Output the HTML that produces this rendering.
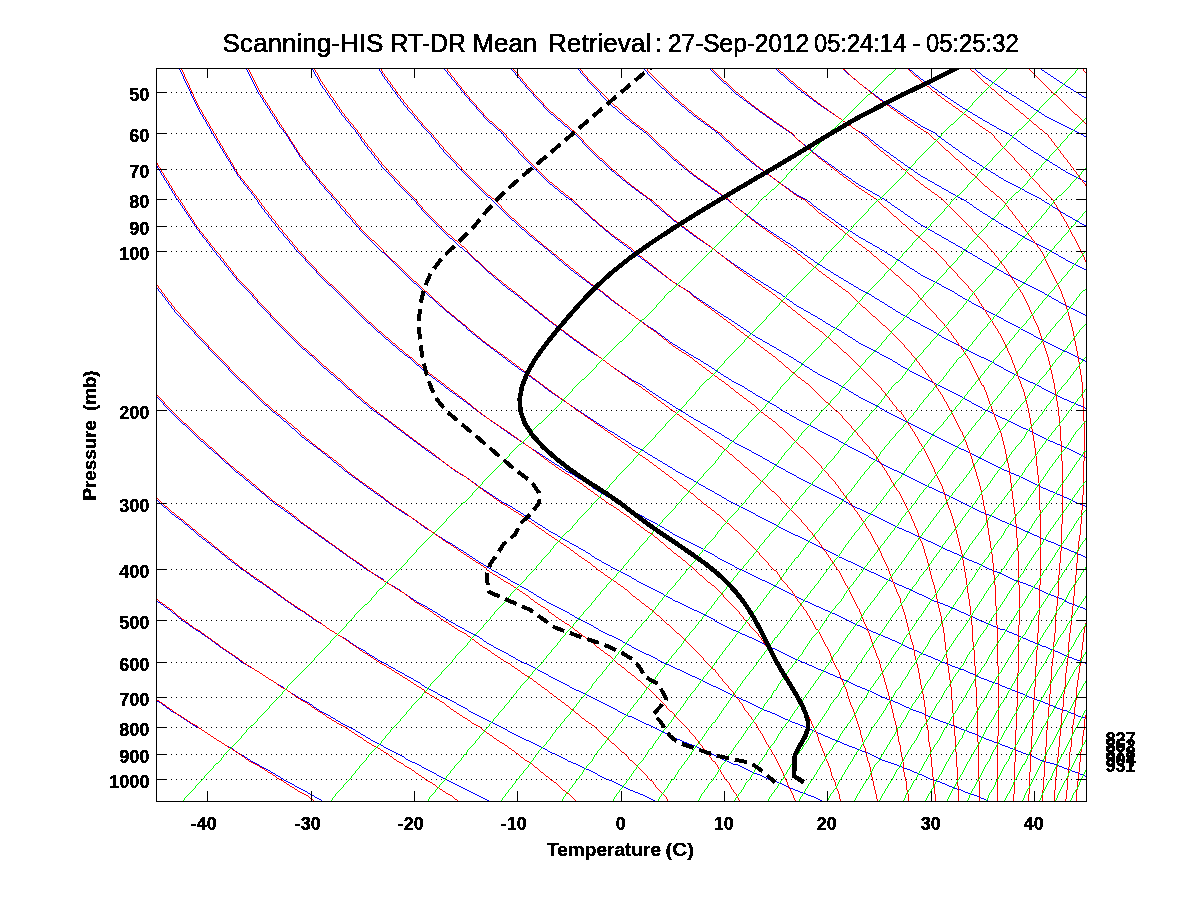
<!DOCTYPE html>
<html><head><meta charset="utf-8"><title>Skew-T</title>
<style>html,body{margin:0;padding:0;background:#fff;overflow:hidden}svg{display:block}</style></head>
<body>
<svg width="1200" height="900" viewBox="0 0 1200 900">
<defs><clipPath id="c"><rect x="156" y="68" width="931" height="734"/></clipPath>
<filter id="th" x="0" y="0" width="1200" height="900" filterUnits="userSpaceOnUse" color-interpolation-filters="sRGB"><feComponentTransfer><feFuncA type="discrete" tableValues="0 1"/></feComponentTransfer></filter>
</defs>
<rect width="1200" height="900" fill="#fff"/>
<g shape-rendering="crispEdges" fill="none" stroke-width="1" stroke-linecap="square" transform="translate(0.5,0.5)">
<path stroke="#0000ff" d="M322 801l-2 -2h-1l-1 -1h-1l-1 -1h-1l-2 -2h-1l-1 -1h-1l-1 -1h-1l-2 -2h-1l-1 -1h-1l-1 -1h-1l-1 -1h-1l-1 -1h-1l-1 -1h-1l-2 -2h-1l-1 -1h-1l-1 -1h-1l-1 -1h-1l-1 -1h-1l-2 -2h-1l-2 -2h-1l-1 -1h-1l-2 -2h-1l-1 -1h-1l-2 -2h-1l-1 -1h-1l-1 -1h-1l-1 -1h-1l-1 -1h-1l-2 -2h-1l-1 -1h-1l-1 -1h-1l-1 -1h-1l-2 -2h-1l-2 -2h-1l-2 -2h-1l-1 -1h-1l-1 -1h-1l-2 -2h-1l-3 -3h-1l-1 -1h-1l-1 -1h-1l-1 -1h-1l-2 -2h-1l-2 -2h-1l-1 -1h-1l-2 -2h-1l-2 -2h-1l-2 -2h-1l-2 -2h-1l-2 -2h-1l-2 -2h-1l-1 -1h-1l-1 -1h-1l-1 -1h-1l-2 -2h-1l-2 -2h-1l-2 -2h-1l-2 -2h-1l-2 -2h-1l-2 -2h-1l-1 -1h-1l-1 -1h-1l-3 -3h-1l-3 -3h-1l-3 -3h-1l-1 -1h-1l-1 -1M489 801l-1 -1h-1l-1 -1h-1l-1 -1h-1l-1 -1h-1l-1 -1h-1l-1 -1h-1l-1 -1h-1l-1 -1h-1l-1 -1h-1l-1 -1h-1l-1 -1h-1l-1 -1h-1l-1 -1h-1l-1 -1h-1l-1 -1h-1l-1 -1h-1l-1 -1h-1l-1 -1h-1l-1 -1h-1l-1 -1h-1l-1 -1h-1l-1 -1h-1l-1 -1h-1l-1 -1h-1l-1 -1h-1l-1 -1h-1l-2 -2h-1l-1 -1h-1l-1 -1h-1l-1 -1h-1l-1 -1h-1l-1 -1h-1l-1 -1h-1l-2 -2h-1l-1 -1h-1l-1 -1h-1l-1 -1h-2l-1 -1h-1l-1 -1h-1l-1 -1h-1l-3 -3h-1l-1 -1h-1l-1 -1h-1l-1 -1h-1l-1 -1h-1l-1 -1h-1l-1 -1h-1l-1 -1h-1l-1 -1h-1l-1 -1h-1l-2 -2h-1l-1 -1h-1l-1 -1h-1l-1 -1h-1l-1 -1h-1l-1 -1h-1l-2 -2h-1l-1 -1h-1l-2 -2h-1l-1 -1h-1l-2 -2h-1l-1 -1h-1l-2 -2h-1l-1 -1h-1l-1 -1h-1l-1 -1h-1l-1 -1h-1l-1 -1h-1l-1 -1h-1l-2 -2h-1l-1 -1h-1l-2 -2h-1l-1 -1h-1l-2 -2h-1l-1 -1h-1l-1 -1h-1l-1 -1h-1l-1 -1h-1l-2 -2h-1l-2 -2h-1l-3 -3h-1l-2 -2h-1l-1 -1h-1l-1 -1h-1l-1 -1h-1l-1 -1h-1l-2 -2h-1l-2 -2h-1l-1 -1h-1l-2 -2h-1l-2 -2h-1l-3 -3h-1l-1 -1h-1l-1 -1h-1l-2 -2h-1l-2 -2h-1l-1 -1h-1l-2 -2h-1l-2 -2h-1l-2 -2h-1l-2 -2h-1l-1 -1h-1l-2 -2h-1l-1 -1h-1l-1 -1h-1l-2 -2h-1l-1 -1h-1l-2 -2h-1l-3 -3h-1l-3 -3h-1l-2 -2h-1l-2 -2h-1l-2 -2h-1l-2 -2h-1l-3 -3h-1l-3 -3h-1l-3 -3h-1l-2 -2h-1l-2 -2h-1l-3 -3h-1l-1 -1h-1l-2 -2h-1l-2 -2h-1l-3 -3h-1l-2 -2h-1l-3 -3h-1l-5 -5h-1l-4 -4h-1l-2 -2h-1l-3 -3h-1l-2 -2h-1l-2 -2M655 801l-1 -1h-1l-1 -1h-1l-1 -1h-1l-1 -1h-1l-1 -1h-1l-1 -1h-1l-1 -1h-2l-1 -1h-1l-1 -1h-2l-1 -1h-1l-1 -1h-2l-1 -1h-1l-1 -1h-1l-1 -1h-1l-1 -1h-1l-1 -1h-1l-1 -1h-1l-1 -1h-1l-1 -1h-1l-1 -1h-1l-1 -1h-2l-1 -1h-2l-1 -1h-1l-1 -1h-1l-1 -1h-1l-1 -1h-1l-2 -2h-1l-1 -1h-1l-1 -1h-1l-1 -1h-1l-1 -1h-2l-1 -1h-1l-1 -1h-1l-1 -1h-1l-1 -1h-1l-1 -1h-1l-1 -1h-2l-1 -1h-1l-1 -1h-2l-2 -2h-1l-1 -1h-1l-1 -1h-1l-1 -1h-1l-1 -1h-1l-1 -1h-1l-1 -1h-2l-1 -1h-1l-1 -1h-1l-2 -2h-1l-1 -1h-1l-1 -1h-1l-1 -1h-1l-1 -1h-1l-1 -1h-1l-1 -1h-1l-1 -1h-1l-1 -1h-1l-1 -1h-2l-1 -1h-1l-1 -1h-1l-1 -1h-1l-1 -1h-1l-1 -1h-1l-1 -1h-1l-1 -1h-1l-1 -1h-1l-1 -1h-1l-2 -2h-1l-1 -1h-1l-1 -1h-1l-1 -1h-1l-1 -1h-1l-1 -1h-1l-1 -1h-1l-1 -1h-1l-1 -1h-1l-1 -1h-1l-1 -1h-1l-1 -1h-1l-1 -1h-1l-1 -1h-1l-1 -1h-1l-1 -1h-1l-1 -1h-1l-1 -1h-1l-1 -1h-1l-3 -3h-1l-1 -1h-1l-1 -1h-1l-1 -1h-1l-1 -1h-1l-2 -2h-1l-1 -1h-1l-1 -1h-1l-1 -1h-1l-1 -1h-1l-1 -1h-1l-1 -1h-1l-1 -1h-1l-1 -1h-1l-2 -2h-1l-1 -1h-1l-1 -1h-1l-1 -1h-1l-1 -1h-1l-1 -1h-1l-2 -2h-1l-3 -3h-1l-1 -1h-1l-1 -1h-1l-2 -2h-1l-1 -1h-1l-1 -1h-1l-1 -1h-1l-2 -2h-1l-1 -1h-1l-1 -1h-1l-1 -1h-1l-2 -2h-1l-1 -1h-1l-1 -1h-1l-2 -2h-1l-1 -1h-1l-1 -1h-1l-1 -1h-1l-1 -1h-1l-2 -2h-1l-2 -2h-1l-1 -1h-1l-2 -2h-1l-3 -3h-1l-1 -1h-1l-1 -1h-1l-1 -1h-1l-2 -2h-1l-2 -2h-1l-3 -3h-1l-2 -2h-1l-1 -1h-1l-1 -1h-1l-1 -1h-1l-2 -2h-1l-2 -2h-1l-1 -1h-1l-2 -2h-1l-3 -3h-1l-2 -2h-1l-1 -1h-1l-1 -1h-1l-2 -2h-1l-3 -3h-1l-2 -2h-1l-3 -3h-1l-1 -1h-1l-1 -1h-1l-2 -2h-1l-3 -3h-1l-2 -2h-1l-2 -2h-1l-3 -3h-1l-2 -2h-1l-3 -3h-1l-3 -3h-1l-2 -2h-1l-3 -3h-1l-2 -2h-1l-1 -1h-1l-2 -2h-1l-3 -3h-1l-3 -3h-1l-3 -3h-1l-2 -2h-1l-3 -3h-1l-3 -3h-1l-3 -3h-1l-5 -5h-1l-5 -5h-1l-3 -3h-1l-4 -4h-1l-3 -3h-1l-3 -3h-1l-7 -7h-1l-5 -5h-1l-5 -5h-1l-2 -2h-1l-3 -3h-1l-7 -7h-1l-8 -8M822 801l-1 -1h-1l-1 -1h-1l-1 -1h-1l-1 -1h-1l-1 -1h-2l-1 -1h-2l-1 -1h-1l-1 -1h-2l-1 -1h-2l-1 -1h-1l-1 -1h-2l-1 -1h-1l-1 -1h-2l-1 -1h-1l-1 -1h-1l-1 -1h-1l-1 -1h-1l-1 -1h-2l-1 -1h-1l-1 -1h-1l-1 -1h-3l-1 -1h-2l-1 -1h-1l-1 -1h-1l-1 -1h-1l-1 -1h-1l-1 -1h-2l-1 -1h-2l-1 -1h-1l-1 -1h-1l-1 -1h-1l-1 -1h-1l-1 -1h-1l-1 -1h-1l-1 -1h-1l-1 -1h-1l-1 -1h-4l-1 -1h-1l-1 -1h-1l-1 -1h-1l-1 -1h-2l-1 -1h-1l-1 -1h-1l-1 -1h-1l-1 -1h-1l-1 -1h-1l-1 -1h-1l-1 -1h-1l-1 -1h-1l-1 -1h-1l-1 -1h-1l-1 -1h-2l-1 -1h-1l-1 -1h-1l-1 -1h-1l-1 -1h-2l-1 -1h-2l-1 -1h-1l-1 -1h-2l-1 -1h-1l-1 -1h-1l-1 -1h-2l-1 -1h-1l-1 -1h-1l-1 -1h-1l-1 -1h-1l-1 -1h-1l-1 -1h-1l-1 -1h-1l-1 -1h-1l-1 -1h-1l-1 -1h-1l-1 -1h-1l-1 -1h-1l-1 -1h-1l-1 -1h-1l-1 -1h-2l-1 -1h-1l-1 -1h-1l-1 -1h-1l-1 -1h-1l-1 -1h-1l-1 -1h-1l-1 -1h-1l-1 -1h-3l-1 -1h-1l-1 -1h-1l-1 -1h-1l-1 -1h-1l-1 -1h-1l-2 -2h-1l-1 -1h-1l-1 -1h-1l-1 -1h-1l-1 -1h-1l-1 -1h-1l-1 -1h-1l-1 -1h-1l-1 -1h-1l-1 -1h-1l-1 -1h-1l-1 -1h-1l-1 -1h-1l-1 -1h-1l-1 -1h-1l-1 -1h-1l-1 -1h-1l-1 -1h-1l-1 -1h-1l-1 -1h-2l-1 -1h-1l-1 -1h-1l-1 -1h-1l-2 -2h-1l-1 -1h-1l-1 -1h-1l-1 -1h-1l-1 -1h-1l-1 -1h-1l-1 -1h-1l-1 -1h-1l-1 -1h-1l-1 -1h-1l-2 -2h-1l-1 -1h-1l-1 -1h-1l-1 -1h-1l-1 -1h-1l-2 -2h-1l-1 -1h-1l-1 -1h-1l-1 -1h-1l-1 -1h-1l-1 -1h-2l-1 -1h-1l-1 -1h-1l-1 -1h-1l-1 -1h-1l-2 -2h-1l-1 -1h-1l-1 -1h-1l-2 -2h-1l-1 -1h-1l-1 -1h-1l-1 -1h-1l-1 -1h-1l-1 -1h-1l-1 -1h-1l-2 -2h-1l-1 -1h-1l-1 -1h-1l-2 -2h-1l-3 -3h-1l-2 -2h-1l-1 -1h-1l-1 -1h-1l-1 -1h-1l-1 -1h-1l-1 -1h-1l-1 -1h-1l-2 -2h-1l-1 -1h-1l-1 -1h-1l-1 -1h-1l-2 -2h-1l-1 -1h-1l-1 -1h-1l-2 -2h-1l-2 -2h-1l-1 -1h-1l-2 -2h-1l-2 -2h-1l-1 -1h-1l-2 -2h-1l-1 -1h-1l-2 -2h-1l-1 -1h-1l-1 -1h-1l-1 -1h-1l-1 -1h-1l-2 -2h-1l-2 -2h-1l-2 -2h-1l-2 -2h-1l-2 -2h-1l-3 -3h-1l-1 -1h-1l-2 -2h-1l-1 -1h-1l-1 -1h-1l-2 -2h-1l-1 -1h-1l-1 -1v-1l-1 -1h-1l-1 -1h-1l-2 -2h-1l-1 -1h-1l-1 -1h-1l-2 -2h-1l-1 -1h-1l-2 -2h-1l-3 -3h-1l-2 -2h-1l-3 -3h-1l-2 -2h-1l-2 -2h-1l-3 -3h-1l-2 -2h-1l-3 -3h-1l-3 -3h-1l-2 -2h-1l-2 -2h-1l-3 -3h-1l-2 -2h-1l-3 -3h-1l-3 -3h-1l-2 -2h-1l-3 -3h-1l-2 -2h-1l-3 -3h-1l-4 -4h-1l-3 -3h-1l-2 -2h-1l-3 -3h-1l-2 -2h-1l-2 -2h-1l-4 -4h-1l-7 -7h-1l-4 -4h-1l-4 -4h-1l-5 -5h-1l-5 -5h-1l-3 -3h-1l-9 -9h-1l-10 -10h-1l-5 -5h-1l-7 -7h-1l-17 -17h-1l-20 -20v-1l-7 -7M989 801h-1l-1 -1h-1l-1 -1h-1l-1 -1h-2l-1 -1h-1l-1 -1h-1l-1 -1h-2l-1 -1h-2l-1 -1h-2l-1 -1h-2l-1 -1h-1l-1 -1h-1l-1 -1h-3l-1 -1h-2l-1 -1h-1l-1 -1h-2l-1 -1h-1l-1 -1h-1l-1 -1h-2l-1 -1h-1l-1 -1h-3l-1 -1h-2l-1 -1h-2l-1 -1h-1l-1 -1h-1l-1 -1h-1l-1 -1h-1l-1 -1h-2l-1 -1h-1l-1 -1h-2l-1 -1h-1l-1 -1h-1l-1 -1h-2l-1 -1h-2l-1 -1h-1l-1 -1h-2l-1 -1h-1l-1 -1h-2l-1 -1h-2l-1 -1h-2l-1 -1h-2l-1 -1h-2l-1 -1h-1l-1 -1h-1l-1 -1h-1l-1 -1h-1l-1 -1h-1l-1 -1h-1l-1 -1h-1l-1 -1h-2l-1 -1h-2l-1 -1h-1l-1 -1h-2l-1 -1h-1l-1 -1h-2l-1 -1h-2l-1 -1h-1l-1 -1h-2l-1 -1h-1l-1 -1h-1l-1 -1h-2l-1 -1h-1l-1 -1h-2l-1 -1h-1l-1 -1h-1l-1 -1h-2l-1 -1h-1l-1 -1h-1l-1 -1h-2l-1 -1h-1l-1 -1h-1l-1 -1h-1l-1 -1h-1l-1 -1h-1l-1 -1h-2l-1 -1h-1l-1 -1h-2l-1 -1h-1l-1 -1h-2l-1 -1h-2l-1 -1h-1l-1 -1h-1l-1 -1h-2l-1 -1h-1l-1 -1h-1l-1 -1h-1l-1 -1h-1l-1 -1h-1l-1 -1h-2l-1 -1h-1l-1 -1h-2l-1 -1h-2l-1 -1h-1l-1 -1h-1l-1 -1h-1l-1 -1h-1l-1 -1h-1l-1 -1h-1l-1 -1h-1l-1 -1h-1l-1 -1h-1l-1 -1h-2l-1 -1h-1l-1 -1h-1l-1 -1h-2l-1 -1h-1l-1 -1h-1l-1 -1h-1l-1 -1h-1l-1 -1h-1l-1 -1h-1l-1 -1h-1l-1 -1h-1l-1 -1h-1l-1 -1h-1l-1 -1h-2l-1 -1h-1l-1 -1h-1l-1 -1h-1l-1 -1h-1l-1 -1h-1l-1 -1h-1l-1 -1h-1l-1 -1h-1l-1 -1h-1l-1 -1h-2l-1 -1h-1l-1 -1h-1l-1 -1h-1l-1 -1h-1l-1 -1h-1l-1 -1h-1l-1 -1h-2l-1 -1h-1l-1 -1h-1l-1 -1h-1l-1 -1h-1l-1 -1h-2l-1 -1h-1l-1 -1h-1l-1 -1h-1l-1 -1h-1l-2 -2h-1l-1 -1h-1l-1 -1h-1l-1 -1h-1l-1 -1h-2l-1 -1h-1l-1 -1h-1l-1 -1h-1l-1 -1h-1l-1 -1h-1l-1 -1h-1l-1 -1h-1l-2 -2h-1l-1 -1h-1l-1 -1h-1l-1 -1h-1l-2 -2h-1l-1 -1h-1l-1 -1h-1l-1 -1h-1l-1 -1h-1l-1 -1h-2l-1 -1h-1l-1 -1h-1l-1 -1h-1l-1 -1h-1l-1 -1h-1l-2 -2h-1l-1 -1h-1l-2 -2h-1l-1 -1h-1l-1 -1h-1l-1 -1h-1l-1 -1h-1l-1 -1h-1l-1 -1h-1l-1 -1h-1l-1 -1h-1l-2 -2h-1l-1 -1h-1l-2 -2h-1l-1 -1h-1l-1 -1h-1l-1 -1h-1l-1 -1h-1l-1 -1h-1l-1 -1h-1l-1 -1h-1l-1 -1h-1l-1 -1h-1l-1 -1h-1l-2 -2h-1l-1 -1h-1l-2 -2h-1l-1 -1h-1l-2 -2h-1l-2 -2h-1l-1 -1h-1l-2 -2h-1l-1 -1h-1l-1 -1h-1l-1 -1h-1l-2 -2h-1l-1 -1h-1l-1 -1h-1l-1 -1h-1l-2 -2h-1l-2 -2h-1l-1 -1h-1l-1 -1h-1l-1 -1h-1l-2 -2h-1l-1 -1h-1l-1 -1h-1l-2 -2h-1l-1 -1h-1l-2 -2h-1l-2 -2h-1l-1 -1h-1l-2 -2h-1l-2 -2h-1l-2 -2h-1l-2 -2h-1l-2 -2h-1l-2 -2h-1l-1 -1h-1l-2 -2h-1l-2 -2h-1l-2 -2h-1l-1 -1h-1l-1 -1h-1l-2 -2h-1l-2 -2h-1l-1 -1h-1l-2 -2h-1l-2 -2h-1l-2 -2h-1l-1 -1h-1l-1 -1h-1l-3 -3h-1l-3 -3h-1l-3 -3h-1l-3 -3h-1l-1 -1h-1l-1 -1h-1l-2 -2h-1l-2 -2h-1l-2 -2h-1l-2 -2h-1l-2 -2h-1l-3 -3h-1l-4 -4h-1l-2 -2h-1l-2 -2h-1l-3 -3h-1l-2 -2h-1l-3 -3h-1l-3 -3h-1l-3 -3h-1l-2 -2h-1l-3 -3h-1l-3 -3h-1l-5 -5h-1l-4 -4h-1l-5 -5h-1l-4 -4h-1l-4 -4h-1l-3 -3h-1l-3 -3h-1l-3 -3h-1l-3 -3h-1l-9 -9h-1l-7 -7h-1l-6 -6h-1l-3 -3h-1l-7 -7h-1l-23 -23h-1l-13 -13v-1l-20 -20v-1l-14 -14v-1l-11 -11v-1l-9 -9v-1l-3 -3v-1l-3 -3v-1l-3 -3v-1l-3 -3v-1l-4 -4v-1l-2 -2M1086 776h-1l-1 -1h-1l-1 -1h-2l-1 -1h-1l-1 -1h-2l-1 -1h-2l-1 -1h-1l-1 -1h-2l-1 -1h-2l-1 -1h-1l-1 -1h-2l-1 -1h-1l-1 -1h-2l-1 -1h-3l-1 -1h-3l-1 -1h-2l-1 -1h-2l-1 -1h-1l-1 -1h-1l-1 -1h-1l-1 -1h-1l-1 -1h-1l-1 -1h-3l-1 -1h-2l-1 -1h-1l-1 -1h-2l-1 -1h-1l-1 -1h-2l-1 -1h-2l-1 -1h-1l-1 -1h-2l-1 -1h-2l-1 -1h-1l-1 -1h-2l-1 -1h-2l-1 -1h-1l-1 -1h-2l-1 -1h-2l-1 -1h-1l-1 -1h-2l-1 -1h-1l-1 -1h-1l-1 -1h-1l-1 -1h-2l-1 -1h-2l-1 -1h-1l-1 -1h-2l-1 -1h-2l-1 -1h-1l-1 -1h-1l-1 -1h-2l-1 -1h-2l-1 -1h-1l-1 -1h-2l-1 -1h-2l-1 -1h-2l-1 -1h-1l-1 -1h-2l-1 -1h-1l-1 -1h-1l-1 -1h-2l-1 -1h-1l-1 -1h-1l-1 -1h-1l-1 -1h-2l-1 -1h-2l-1 -1h-2l-1 -1h-1l-1 -1h-1l-1 -1h-2l-1 -1h-1l-1 -1h-1l-1 -1h-1l-1 -1h-1l-1 -1h-2l-1 -1h-1l-1 -1h-2l-1 -1h-2l-1 -1h-1l-1 -1h-2l-1 -1h-1l-1 -1h-1l-1 -1h-1l-1 -1h-1l-1 -1h-1l-1 -1h-1l-1 -1h-2l-1 -1h-1l-1 -1h-2l-1 -1h-1l-1 -1h-2l-1 -1h-1l-1 -1h-1l-1 -1h-1l-1 -1h-1l-1 -1h-1l-1 -1h-2l-1 -1h-1l-1 -1h-1l-1 -1h-2l-1 -1h-1l-1 -1h-1l-1 -1h-2l-1 -1h-1l-1 -1h-1l-1 -1h-2l-1 -1h-1l-1 -1h-2l-1 -1h-1l-1 -1h-1l-1 -1h-1l-1 -1h-2l-1 -1h-1l-1 -1h-1l-1 -1h-2l-1 -1h-1l-1 -1h-1l-1 -1h-2l-1 -1h-1l-1 -1h-1l-1 -1h-1l-1 -1h-1l-1 -1h-1l-1 -1h-1l-1 -1h-1l-1 -1h-1l-1 -1h-1l-1 -1h-1l-1 -1h-2l-1 -1h-1l-1 -1h-1l-1 -1h-1l-1 -1h-1l-1 -1h-1l-1 -1h-1l-1 -1h-1l-1 -1h-1l-1 -1h-1l-1 -1h-1l-1 -1h-2l-1 -1h-1l-1 -1h-1l-1 -1h-2l-1 -1h-1l-1 -1h-1l-1 -1h-1l-1 -1h-2l-1 -1h-1l-1 -1h-1l-1 -1h-1l-1 -1h-1l-1 -1h-1l-1 -1h-1l-1 -1h-1l-1 -1h-1l-1 -1h-1l-1 -1v-1h-1l-1 -1h-1l-1 -1h-1l-1 -1h-1l-1 -1h-1l-1 -1h-1l-1 -1h-1l-1 -1h-1l-1 -1h-1l-1 -1h-2l-1 -1h-1l-1 -1h-1l-1 -1h-1l-1 -1h-1l-1 -1h-1l-1 -1h-1l-1 -1h-1l-1 -1h-1l-1 -1h-2l-1 -1h-1l-2 -2h-1l-1 -1h-1l-1 -1h-1l-1 -1h-1l-2 -2h-1l-1 -1h-1l-1 -1h-1l-1 -1h-1l-1 -1h-1l-1 -1h-1l-1 -1h-1l-1 -1h-1l-1 -1h-1l-1 -1h-1l-1 -1h-1l-1 -1h-1l-1 -1h-1l-2 -2h-1l-1 -1h-1l-2 -2h-1l-1 -1h-1l-1 -1h-1l-1 -1h-1l-1 -1h-1l-1 -1h-1l-1 -1h-1l-1 -1h-1l-1 -1h-1l-1 -1h-1l-2 -2h-1l-1 -1h-1l-1 -1h-1l-1 -1h-1l-2 -2h-1l-1 -1h-1l-1 -1h-1l-2 -2h-1l-3 -3h-1l-1 -1h-1l-2 -2h-1l-1 -1h-1l-1 -1h-1l-2 -2h-1l-1 -1h-1l-1 -1h-1l-1 -1h-1l-2 -2h-1l-1 -1h-1l-1 -1h-1l-2 -2h-1l-1 -1h-1l-2 -2h-1l-1 -1h-1l-1 -1h-1l-1 -1h-1l-2 -2h-1l-2 -2h-1l-2 -2h-1l-1 -1h-1l-2 -2h-1l-2 -2h-1l-2 -2h-1l-2 -2h-1l-1 -1h-1l-2 -2h-1l-2 -2h-1l-1 -1h-1l-2 -2h-1l-2 -2h-1l-1 -1h-1l-1 -1h-1l-1 -1h-1l-1 -1h-1l-2 -2h-1l-2 -2h-1l-2 -2h-1l-2 -2h-1l-2 -2h-1l-2 -2h-1l-2 -2h-1l-2 -2h-1l-3 -3h-1l-2 -2h-1l-3 -3h-1l-2 -2h-1l-1 -1h-1l-1 -1h-1l-2 -2h-1l-1 -1h-1l-3 -3h-1l-3 -3h-1l-3 -3h-1l-3 -3h-1l-2 -2h-1l-2 -2h-1l-3 -3h-1l-2 -2h-1l-3 -3h-1l-3 -3h-1l-3 -3h-1l-3 -3h-1l-3 -3h-1l-3 -3h-1l-3 -3h-1l-3 -3h-1l-4 -4h-1l-3 -3h-1l-3 -3h-1l-2 -2h-1l-3 -3h-1l-3 -3h-1l-5 -5h-1l-6 -6h-1l-8 -8h-1l-9 -9h-1l-6 -6h-1l-6 -6h-1l-13 -13h-1l-6 -6h-1l-33 -33v-1l-13 -13v-1l-5 -5v-1l-16 -16v-1l-4 -4v-1l-4 -4v-1l-4 -4v-1l-4 -4v-1l-4 -4v-1l-4 -4v-1l-3 -3v-1l-3 -3v-1l-4 -4v-1l-3 -3v-1l-3 -3v-1l-2 -2v-1l-2 -2v-1l-2 -2v-1l-2 -2v-1l-2 -2v-1l-2 -2v-1l-2 -2v-1l-2 -2v-1l-2 -2v-1l-3 -3v-1l-1 -1v-1l-2 -2v-1l-1 -1v-1l-2 -2v-1l-1 -1v-1l-2 -2v-1l-2 -2v-1l-1 -1v-1l-2 -2v-1l-1 -1v-1l-2 -2v-1l-1 -1v-1l-1 -1M1086 718h-1l-1 -1h-3l-1 -1h-2l-1 -1h-1l-1 -1h-1l-1 -1h-2l-1 -1h-1l-1 -1h-1l-1 -1h-4l-1 -1h-1l-1 -1h-2l-1 -1h-1l-1 -1h-1l-1 -1h-2l-1 -1h-1l-1 -1h-2l-1 -1h-1l-1 -1h-2l-1 -1h-2l-1 -1h-1l-1 -1h-2l-1 -1h-2l-1 -1h-1l-1 -1h-1l-1 -1h-1l-1 -1h-2l-1 -1h-1l-1 -1h-2l-1 -1h-2l-1 -1h-1l-1 -1h-2l-1 -1h-1l-1 -1h-2l-1 -1h-1l-1 -1h-1l-1 -1h-2l-1 -1h-2l-1 -1h-2l-1 -1h-1l-1 -1h-2l-1 -1h-2l-1 -1h-1l-1 -1h-1l-1 -1h-1l-1 -1h-1l-1 -1h-2l-1 -1h-1l-1 -1h-1l-1 -1h-1l-1 -1h-3l-1 -1h-1l-1 -1h-2l-1 -1h-2l-1 -1h-1l-1 -1h-2l-1 -1h-1l-1 -1h-2l-1 -1h-1l-1 -1h-1l-1 -1h-2l-1 -1h-1l-1 -1h-1l-1 -1h-2l-1 -1h-1l-1 -1h-2l-1 -1h-1l-1 -1h-1l-1 -1h-1l-1 -1h-2l-1 -1h-1l-1 -1h-2l-1 -1h-1l-1 -1h-1l-1 -1h-1l-1 -1h-1l-1 -1h-1l-1 -1h-1l-1 -1h-1l-1 -1h-2l-1 -1h-1l-1 -1h-1l-1 -1h-2l-1 -1h-1l-1 -1h-1l-1 -1h-2l-1 -1h-1l-1 -1h-2l-1 -1h-1l-1 -1h-1l-1 -1h-2l-1 -1h-1l-1 -1h-1l-1 -1h-1l-1 -1h-2l-1 -1h-1l-1 -1h-1l-1 -1h-1l-1 -1h-1l-1 -1h-1l-1 -1h-1l-1 -1h-1l-1 -1h-1l-1 -1h-1l-1 -1h-1l-1 -1h-1l-1 -1h-2l-1 -1h-1l-1 -1h-1l-1 -1h-2l-1 -1h-1l-1 -1h-1l-1 -1h-1l-1 -1h-2l-1 -1h-1l-1 -1h-1l-1 -1h-1l-1 -1h-1l-1 -1h-2l-1 -1h-1l-1 -1h-1l-1 -1h-1l-1 -1h-1l-1 -1h-1l-1 -1h-1l-1 -1h-1l-1 -1h-1l-1 -1h-1l-1 -1h-1l-1 -1h-1l-1 -1h-1l-1 -1h-1l-1 -1h-1l-1 -1h-1l-1 -1h-1l-1 -1h-1l-1 -1h-1l-1 -1h-1l-1 -1h-1l-1 -1h-2l-1 -1h-1l-1 -1h-1l-1 -1h-1l-1 -1h-1l-1 -1h-1l-1 -1h-1l-1 -1h-1l-1 -1h-1l-1 -1h-1l-1 -1h-1l-1 -1h-2l-1 -1h-1l-1 -1h-1l-2 -2h-1l-1 -1h-1l-1 -1h-1l-1 -1h-1l-1 -1h-1l-1 -1h-1l-1 -1h-1l-1 -1h-1l-2 -2h-1l-2 -2h-1l-1 -1h-1l-1 -1h-1l-1 -1h-1l-1 -1h-1l-2 -2h-1l-1 -1h-1l-1 -1h-1l-1 -1h-1l-1 -1h-1l-1 -1h-1l-1 -1h-1l-1 -1h-1l-1 -1h-1l-1 -1h-1l-1 -1h-1l-1 -1h-1l-1 -1h-1l-1 -1h-1l-1 -1h-1l-2 -2h-1l-2 -2h-1l-1 -1h-1l-2 -2h-1l-1 -1h-1l-1 -1h-1l-2 -2h-1l-1 -1h-1l-1 -1h-1l-1 -1h-1l-1 -1h-1l-1 -1h-1l-2 -2h-1l-1 -1h-1l-1 -1h-1l-1 -1h-1l-1 -1h-1l-1 -1h-1l-2 -2h-1l-1 -1h-1l-1 -1h-1l-2 -2h-1l-1 -1h-1l-2 -2h-1l-1 -1h-1l-1 -1h-1l-1 -1h-1l-2 -2h-1l-1 -1h-1l-2 -2h-1l-1 -1h-1l-2 -2h-1l-2 -2h-1l-1 -1h-1l-4 -4h-1l-1 -1h-1l-2 -2h-1l-2 -2h-1l-1 -1h-1l-2 -2h-1l-2 -2h-1l-1 -1h-1l-1 -1h-1l-1 -1h-1l-2 -2h-1l-2 -2h-1l-2 -2h-1l-1 -1h-1l-2 -2h-1l-2 -2h-1l-2 -2h-1l-2 -2h-1l-2 -2h-1l-2 -2h-1l-2 -2h-1l-1 -1h-1l-2 -2h-1l-2 -2h-1l-2 -2h-1l-2 -2h-1l-2 -2h-1l-2 -2h-1l-2 -2h-1l-2 -2h-1l-3 -3h-1l-2 -2h-1l-3 -3h-1l-2 -2h-1l-2 -2h-1l-3 -3h-1l-2 -2h-1l-2 -2h-1l-3 -3h-1l-3 -3h-1l-4 -4h-1l-3 -3h-1l-3 -3h-1l-2 -2h-1l-3 -3h-1l-2 -2h-1l-3 -3h-1l-4 -4h-1l-3 -3h-1l-3 -3h-1l-3 -3h-1l-3 -3h-1l-7 -7h-1l-8 -8h-1l-2 -2h-1l-4 -4h-1l-6 -6h-1l-6 -6h-1l-7 -7h-1l-9 -9h-1l-38 -38h-1l-13 -13v-1l-11 -11v-1l-11 -11v-1l-5 -5v-1l-6 -6v-1l-5 -5v-1l-3 -3v-1l-4 -4v-1l-3 -3v-1l-4 -4v-1l-3 -3v-1l-3 -3v-1l-1 -1v-1l-3 -3v-1l-3 -3v-1l-4 -4v-1l-4 -4v-1l-3 -3v-1l-3 -3v-1l-1 -1v-1l-2 -2v-1l-1 -1v-1l-2 -2v-1l-1 -1v-1l-2 -2v-1l-2 -2v-1l-1 -1v-1l-2 -2v-1l-1 -1v-1l-2 -2v-1l-1 -1v-1l-2 -2v-1l-1 -1v-1l-2 -2v-1l-1 -1v-1l-2 -2v-1l-1 -1v-1l-1 -1v-1l-2 -2v-1l-1 -1v-1l-1 -1v-1l-2 -2v-1l-1 -1v-1l-2 -2v-1l-1 -1v-1l-1 -1v-1l-1 -1v-1l-1 -1v-1l-1 -1v-1l-1 -1v-1l-1 -1v-1l-1 -1v-1l-1 -1v-1l-1 -1v-2l-1 -1v-1l-1 -1v-1l-1 -1v-1l-1 -1v-1l-1 -1v-1l-1 -1v-1l-1 -1v-2l-1 -1v-1l-1 -1v-1l-1 -1v-1l-1 -1v-1M1086 663h-1l-1 -1h-2l-1 -1h-1l-1 -1h-2l-1 -1h-2l-1 -1h-1l-1 -1h-2l-1 -1h-1l-1 -1h-2l-1 -1h-1l-1 -1h-1l-1 -1h-1l-1 -1h-2l-1 -1h-1l-1 -1h-2l-1 -1h-1l-1 -1h-1l-1 -1h-3l-1 -1h-1l-1 -1h-1l-1 -1h-2l-1 -1h-1l-1 -1h-2l-1 -1h-1l-1 -1h-1l-1 -1h-2l-1 -1h-1l-1 -1h-1l-1 -1h-1l-1 -1h-2l-1 -1h-1l-1 -1h-2l-1 -1h-1l-1 -1h-1l-1 -1h-4l-1 -1h-1l-1 -1h-1l-1 -1h-2l-1 -1h-1l-1 -1h-2l-1 -1h-1l-1 -1h-1l-1 -1h-2l-1 -1h-1l-1 -1h-1l-1 -1h-1l-1 -1h-1l-1 -1h-2l-1 -1h-1l-1 -1h-1l-1 -1h-1l-1 -1h-2l-1 -1h-1l-1 -1h-1l-1 -1h-1l-1 -1h-2l-1 -1h-1l-1 -1h-1l-1 -1h-2l-1 -1h-1l-1 -1h-2l-1 -1h-2l-1 -1h-2l-1 -1h-1l-1 -1h-1l-1 -1h-1l-1 -1h-1l-1 -1h-1l-1 -1h-1l-1 -1h-2l-1 -1h-1l-1 -1h-1l-1 -1h-1l-1 -1h-1l-1 -1h-1l-1 -1h-2l-1 -1h-1l-1 -1h-1l-1 -1h-2l-1 -1h-1l-1 -1h-1l-1 -1h-1l-1 -1h-1l-1 -1h-2l-1 -1h-1l-1 -1h-1l-1 -1h-1l-1 -1h-1l-1 -1h-1l-1 -1h-1l-1 -1h-1l-1 -1h-2l-1 -1h-1l-1 -1h-1l-1 -1h-1l-1 -1h-1l-1 -1h-1l-1 -1h-1l-1 -1h-1l-1 -1h-1l-1 -1h-1l-1 -1h-1l-1 -1h-2l-1 -1h-1l-1 -1h-1l-1 -1h-1l-1 -1h-2l-2 -2h-1l-1 -1h-1l-1 -1h-1l-1 -1h-1l-1 -1h-1l-1 -1h-1l-1 -1h-1l-1 -1h-1l-1 -1h-1l-1 -1h-1l-1 -1h-1l-1 -1h-1l-1 -1h-1l-1 -1h-1l-1 -1h-1l-1 -1h-1l-1 -1h-1l-1 -1h-1l-1 -1h-1l-1 -1h-1l-1 -1h-2l-1 -1h-1l-1 -1h-1l-1 -1h-1l-1 -1h-1l-1 -1h-1l-1 -1h-1l-1 -1h-1l-1 -1h-1l-1 -1h-1l-2 -2h-1l-1 -1h-1l-1 -1h-1l-1 -1h-1l-1 -1h-1l-1 -1h-1l-1 -1h-1l-1 -1h-1l-1 -1h-1l-1 -1h-1l-2 -2h-1l-1 -1h-1l-1 -1h-1l-1 -1h-1l-1 -1h-1l-1 -1h-1l-1 -1h-1l-1 -1h-1l-1 -1h-1l-1 -1h-1l-1 -1h-1l-1 -1h-1l-1 -1h-1l-1 -1h-1l-2 -2h-1l-1 -1h-1l-2 -2h-1l-1 -1h-1l-1 -1h-1l-2 -2h-1l-1 -1h-1l-1 -1h-1l-1 -1h-1l-2 -2h-1l-1 -1h-1l-1 -1h-1l-2 -2h-1l-1 -1h-1l-2 -2h-1l-1 -1h-1l-1 -1h-1l-1 -1h-1l-2 -2h-1l-1 -1h-1l-1 -1h-1l-1 -1h-1l-2 -2h-1l-2 -2h-1l-1 -1h-1l-2 -2h-1l-1 -1h-1l-2 -2h-1l-1 -1h-1l-2 -2h-1l-1 -1h-1l-2 -2h-1l-1 -1h-1l-2 -2h-1l-2 -2h-1l-1 -1h-1l-1 -1h-1l-1 -1h-1l-1 -1h-1l-1 -1h-1l-2 -2h-1l-2 -2h-1l-2 -2h-1l-1 -1h-1l-2 -2h-1l-2 -2h-1l-2 -2h-1l-1 -1h-1l-1 -1h-1l-2 -2h-1l-2 -2h-1l-1 -1h-1l-2 -2h-1l-2 -2h-1l-2 -2h-1l-2 -2h-1l-2 -2h-1l-2 -2h-1l-2 -2h-1l-2 -2h-1l-2 -2h-1l-2 -2h-1l-2 -2h-1l-2 -2h-1l-2 -2h-1l-2 -2h-1l-2 -2h-1l-2 -2h-1l-2 -2h-1l-3 -3h-1l-4 -4h-1l-3 -3h-1l-2 -2h-1l-3 -3h-1l-2 -2h-1l-3 -3h-1l-2 -2h-1l-3 -3h-1l-2 -2h-1l-3 -3h-1l-4 -4h-1l-3 -3h-1l-3 -3h-1l-3 -3h-1l-3 -3h-1l-3 -3h-1l-4 -4h-1l-4 -4h-1l-4 -4h-1l-2 -2v-1l-2 -2h-1l-4 -4h-1l-5 -5h-1l-4 -4h-1l-6 -6h-1l-9 -9h-1l-5 -5h-1l-9 -9h-1l-31 -31h-1l-23 -23v-1l-7 -7v-1l-7 -7v-1l-5 -5v-1l-4 -4v-1l-5 -5v-1l-7 -7v-1l-5 -5v-1l-3 -3v-1l-4 -4v-1l-3 -3v-1l-4 -4v-1l-3 -3v-1l-3 -3v-1l-1 -1v-1l-2 -2v-1l-2 -2v-1l-1 -1v-1l-2 -2v-1l-2 -2v-1l-1 -1v-1l-2 -2v-1l-3 -3v-1l-4 -4v-1l-2 -2v-1l-1 -1v-1l-2 -2v-1l-2 -2v-1l-2 -2v-1l-1 -1v-1l-2 -2v-1l-2 -2v-1l-2 -2v-1l-1 -1v-1l-2 -2v-1l-2 -2v-1l-1 -1v-1l-1 -1v-1l-1 -1v-1l-1 -1v-1l-1 -1v-1l-1 -1v-1l-1 -1v-1l-1 -1v-1l-1 -1v-1l-1 -1v-1l-1 -1v-1l-1 -1v-1M1086 609h-1l-1 -1h-1l-1 -1h-2l-1 -1h-2l-1 -1h-1l-1 -1h-2l-1 -1h-2l-1 -1h-1l-1 -1h-1v-1h-1l-1 -1h-1l-1 -1h-2l-1 -1h-2l-1 -1h-1l-1 -1h-2l-1 -1h-2l-1 -1h-1l-1 -1h-1l-1 -1h-1l-1 -1h-1l-1 -1h-1l-1 -1h-2l-1 -1h-1l-1 -1h-1l-1 -1h-2l-1 -1h-1l-1 -1h-2l-1 -1h-2l-1 -1h-2l-1 -1h-2l-1 -1h-1l-1 -1h-1l-1 -1h-1l-1 -1h-1l-1 -1h-1l-1 -1h-1l-1 -1h-1l-1 -1h-2l-1 -1h-2l-1 -1h-1l-1 -1h-2l-1 -1h-1l-1 -1h-1l-1 -1h-1l-1 -1h-1l-1 -1h-1l-1 -1h-1l-1 -1h-2l-1 -1h-1l-1 -1h-2l-1 -1h-1l-1 -1h-1l-1 -1h-1l-1 -1h-1l-1 -1h-1l-1 -1h-1l-1 -1h-2l-1 -1h-1l-1 -1h-1l-1 -1h-2l-1 -1h-1l-1 -1h-1l-1 -1h-1l-1 -1h-1l-1 -1h-1l-1 -1h-1l-1 -1h-1l-1 -1h-1l-1 -1h-2l-1 -1h-1l-1 -1h-1l-1 -1h-1l-1 -1h-2l-1 -1h-1l-1 -1h-1l-1 -1h-1l-1 -1h-1l-1 -1h-1l-1 -1h-2l-1 -1h-1l-1 -1h-1l-1 -1h-2l-1 -1h-1l-1 -1h-1l-1 -1h-1l-1 -1h-1l-1 -1h-1l-1 -1h-1l-1 -1h-1l-1 -1h-1l-1 -1h-1l-1 -1h-1l-1 -1h-1l-1 -1h-1l-1 -1h-1l-1 -1h-1l-1 -1h-2l-1 -1h-1l-1 -1h-1l-1 -1h-1l-1 -1h-1l-1 -1h-2l-1 -1h-1l-1 -1h-1l-1 -1h-1l-1 -1h-1l-2 -2h-1l-1 -1h-1l-2 -2h-1l-1 -1h-1l-1 -1h-1l-1 -1h-1l-1 -1h-1l-1 -1h-1l-1 -1h-1l-1 -1h-1l-1 -1h-1l-1 -1h-1l-1 -1h-1l-1 -1h-1l-1 -1h-1l-1 -1h-1l-1 -1h-1l-1 -1h-1l-1 -1h-1l-1 -1h-1l-1 -1h-1l-1 -1h-1l-1 -1h-1l-1 -1h-1l-1 -1h-1l-2 -2h-1l-1 -1h-1l-1 -1h-1l-1 -1h-1l-1 -1h-1l-2 -2h-1l-1 -1h-1l-1 -1h-1l-1 -1h-1l-2 -2h-1l-1 -1h-1l-1 -1h-1l-2 -2h-1l-1 -1h-1l-1 -1h-1l-2 -2h-1l-1 -1h-1l-1 -1h-1l-1 -1h-1l-1 -1h-1l-2 -2h-1l-1 -1h-1l-1 -1h-1l-1 -1h-1l-1 -1h-1l-1 -1h-1l-1 -1h-1l-1 -1h-1l-2 -2h-1l-1 -1h-1l-2 -2h-1l-1 -1h-1l-2 -2h-1l-2 -2h-1l-1 -1h-1l-1 -1h-1l-2 -2h-1l-1 -1h-1l-1 -1h-1l-2 -2h-1l-1 -1h-1l-1 -1h-1l-2 -2h-1l-1 -1h-1l-1 -1h-1l-2 -2h-1l-1 -1h-1l-2 -2h-1l-2 -2h-1l-1 -1h-1l-2 -2h-1l-1 -1h-1l-2 -2h-1l-2 -2h-1l-2 -2h-1l-2 -2h-1l-1 -1h-1l-2 -2h-1l-2 -2h-1l-2 -2h-1l-2 -2h-1l-2 -2h-1l-3 -3h-1l-2 -2h-1l-1 -1h-1l-1 -1h-1l-1 -1h-1l-1 -1h-1l-2 -2h-1l-2 -2h-1l-2 -2h-1l-2 -2h-1l-2 -2h-1l-2 -2h-1l-2 -2h-1l-3 -3h-1l-3 -3h-1l-3 -3h-1l-2 -2h-1l-1 -1h-1l-2 -2h-1l-2 -2h-1l-3 -3h-1l-2 -2h-1l-3 -3h-1l-2 -2h-1l-3 -3h-1l-3 -3h-1l-4 -4h-1l-3 -3h-1l-3 -3h-1l-3 -3h-1l-3 -3h-1l-4 -4h-1l-4 -4h-1l-4 -4h-1l-4 -4h-1l-4 -4h-1l-4 -4h-1l-3 -3h-1l-2 -2h-1l-4 -4h-1l-6 -6h-1l-6 -6h-1l-12 -12h-1l-10 -10h-1l-4 -4h-1l-9 -9h-1l-29 -29v-1l-5 -5v-1l-22 -22v-1l-13 -13v-1l-3 -3v-1l-4 -4v-1l-3 -3v-1l-4 -4v-1l-3 -3v-1l-3 -3v-1l-1 -1v-1l-2 -2v-1l-3 -3v-1l-5 -5v-1l-5 -5v-1l-4 -4v-1l-2 -2v-1l-3 -3v-1l-2 -2v-1l-2 -2v-1l-3 -3v-1l-2 -2v-1l-2 -2v-1l-3 -3v-1l-2 -2v-1l-1 -1v-1l-1 -1v-1l-1 -1v-1l-2 -2v-1l-1 -1v-1l-1 -1v-1l-1 -1v-1M1086 557h-1l-1 -1h-1l-1 -1h-1l-1 -1h-2l-1 -1h-1l-1 -1h-1l-1 -1h-2l-1 -1h-1l-1 -1h-1l-1 -1h-2l-1 -1h-1l-1 -1h-1l-1 -1h-1l-1 -1h-1l-1 -1h-1l-1 -1h-2l-1 -1h-2l-1 -1h-1l-1 -1h-2l-1 -1h-1l-1 -1h-1l-1 -1h-1l-1 -1h-2l-1 -1h-1l-1 -1h-1l-1 -1h-1l-1 -1h-2l-1 -1h-1l-1 -1h-1l-1 -1h-1l-1 -1h-2l-1 -1h-1l-1 -1h-1l-1 -1h-2l-1 -1h-1l-1 -1h-1l-1 -1h-2l-1 -1h-1l-1 -1h-1l-1 -1h-1l-1 -1h-1l-1 -1h-1l-1 -1h-2l-1 -1h-2l-1 -1h-1l-1 -1h-2l-1 -1h-1l-1 -1h-1l-1 -1h-1l-1 -1h-1l-1 -1h-1l-1 -1h-1l-1 -1h-1l-1 -1h-1l-1 -1h-1l-1 -1h-1l-1 -1h-1l-1 -1h-1l-1 -1h-1l-1 -1h-1l-1 -1h-1l-1 -1h-1l-1 -1h-1l-1 -1h-1l-1 -1h-1l-1 -1h-2l-1 -1h-1l-1 -1h-1l-1 -1h-1l-1 -1h-1l-1 -1h-2l-1 -1h-1l-1 -1h-1l-1 -1h-1l-1 -1h-1l-1 -1h-1l-1 -1h-1l-1 -1h-1l-1 -1h-1l-1 -1h-1l-1 -1h-1l-1 -1h-1l-1 -1h-1l-1 -1h-1l-1 -1h-1l-1 -1h-1l-1 -1h-1l-1 -1h-2l-1 -1h-1l-1 -1h-1l-1 -1h-1l-1 -1h-1l-1 -1h-1l-1 -1h-1l-1 -1h-1l-2 -2h-1l-1 -1h-1l-1 -1h-1l-1 -1h-1l-1 -1h-1l-2 -2h-1l-1 -1h-1l-1 -1h-1l-1 -1h-1l-1 -1h-1l-1 -1h-1l-1 -1h-1l-1 -1h-1l-1 -1h-1l-1 -1h-1l-2 -2h-1l-1 -1h-1l-1 -1h-1l-1 -1h-1l-2 -2h-1l-1 -1h-1l-1 -1h-1l-1 -1h-1l-1 -1h-1l-1 -1h-1l-1 -1h-1l-1 -1h-1l-1 -1h-1l-1 -1h-1l-2 -2h-1l-1 -1h-1l-1 -1h-1l-1 -1h-1l-1 -1h-1l-1 -1h-1l-1 -1h-1l-1 -1h-1l-1 -1h-1l-1 -1h-1l-2 -2h-1l-1 -1h-1l-1 -1h-1l-2 -2h-1l-1 -1h-1l-1 -1h-1l-2 -2h-1l-2 -2h-1l-2 -2h-1l-1 -1h-1l-1 -1h-1l-2 -2h-1l-1 -1h-1l-1 -1h-1l-2 -2h-1l-1 -1h-1l-1 -1h-1l-2 -2h-1l-2 -2h-1l-1 -1h-1l-2 -2h-1l-2 -2h-1l-1 -1h-1l-1 -1h-1l-1 -1h-1l-1 -1h-1l-1 -1h-1l-2 -2h-1l-2 -2h-1l-1 -1h-1l-2 -2h-1l-2 -2h-1l-2 -2h-1l-2 -2h-1l-2 -2h-1l-2 -2h-1l-1 -1h-1l-2 -2h-1l-2 -2h-1l-1 -1h-1l-1 -1h-1l-2 -2h-1l-1 -1h-1l-2 -2h-1l-2 -2h-1l-1 -1h-1l-2 -2h-1l-2 -2h-1l-1 -1h-1l-2 -2h-1l-3 -3h-1l-3 -3h-1l-3 -3h-1l-3 -3h-1l-2 -2h-1l-1 -1h-1l-2 -2h-1l-3 -3h-1l-2 -2h-1l-2 -2h-1l-3 -3h-1l-2 -2h-1l-3 -3h-1l-2 -2h-1l-3 -3h-1l-2 -2h-1l-3 -3h-1l-4 -4h-1l-5 -5h-1l-2 -2h-1l-2 -2h-1l-2 -2h-1l-3 -3h-1l-3 -3h-1l-3 -3h-1l-3 -3h-1l-3 -3h-1l-5 -5h-1l-5 -5h-1l-6 -6h-1l-6 -6h-1l-4 -4h-1l-4 -4h-1l-4 -4h-1l-7 -7h-1l-9 -9h-1l-23 -23h-1l-32 -32v-1l-13 -13v-1l-4 -4v-1l-4 -4v-1l-4 -4v-1l-10 -10v-1l-7 -7v-1l-7 -7v-1l-4 -4v-1l-3 -3v-1l-3 -3v-1l-2 -2v-1l-3 -3v-1l-2 -2v-1l-3 -3v-1l-3 -3v-1l-2 -2v-1l-1 -1v-1l-2 -2v-1l-1 -1M1086 506h-1l-1 -1h-2l-1 -1h-1l-1 -1h-2l-1 -1h-1l-1 -1h-1l-1 -1h-1l-1 -1h-1l-1 -1h-1l-1 -1h-2l-1 -1h-1l-1 -1h-1l-1 -1h-2l-1 -1h-1l-1 -1h-1l-1 -1h-2l-1 -1h-1l-1 -1h-1l-1 -1h-2l-1 -1h-1l-1 -1h-1l-1 -1h-1l-1 -1h-1l-1 -1h-1l-1 -1h-1l-1 -1h-1l-1 -1h-1l-1 -1h-1l-1 -1h-1l-1 -1h-1l-1 -1h-1l-1 -1h-2l-1 -1h-1l-1 -1h-2l-1 -1h-1l-1 -1h-1l-1 -1h-2l-1 -1h-1l-1 -1h-1l-1 -1h-1l-1 -1h-1l-1 -1h-1l-1 -1h-1l-1 -1h-1l-1 -1h-1l-1 -1h-1l-1 -1h-1l-1 -1h-1l-1 -1h-1l-1 -1h-1l-1 -1h-1l-1 -1h-1l-1 -1h-1l-1 -1h-1l-1 -1h-1l-1 -1h-1l-1 -1h-1l-1 -1h-2l-1 -1h-1l-1 -1h-1l-1 -1h-1l-1 -1h-1l-1 -1h-1l-1 -1h-1l-1 -1h-1l-1 -1h-1l-1 -1h-1l-1 -1h-1l-1 -1h-1l-1 -1h-1l-1 -1h-1l-1 -1h-1l-1 -1h-1l-1 -1h-1l-1 -1h-1l-1 -1h-1l-1 -1h-1l-1 -1h-1l-1 -1h-1l-1 -1h-1l-1 -1h-1l-1 -1h-1l-1 -1h-1l-1 -1h-1l-1 -1h-1l-1 -1h-1l-1 -1h-1l-1 -1h-1l-1 -1h-1l-1 -1h-1l-1 -1h-1l-1 -1h-1l-1 -1h-1l-1 -1h-1l-1 -1h-1l-1 -1h-1l-2 -2h-1l-1 -1h-1l-2 -2h-1l-1 -1h-1l-1 -1h-1l-1 -1h-1l-1 -1h-1l-1 -1h-1l-1 -1h-1l-1 -1h-1l-1 -1h-1l-1 -1h-1l-2 -2h-1l-1 -1h-1l-2 -2h-1l-1 -1h-1l-2 -2h-1l-2 -2h-1l-1 -1h-1l-1 -1h-1l-2 -2h-1l-1 -1h-1l-1 -1h-1l-1 -1h-1l-1 -1h-1l-1 -1h-1l-1 -1h-1l-1 -1h-1l-1 -1h-1l-1 -1h-1l-2 -2h-1l-1 -1h-1l-2 -2h-1l-2 -2h-1l-1 -1h-1l-2 -2h-1l-2 -2h-1l-1 -1h-1l-2 -2h-1l-2 -2h-1l-1 -1h-1l-2 -2h-1l-1 -1h-1l-1 -1h-1l-2 -2h-1l-1 -1h-1l-2 -2h-1l-1 -1h-1l-1 -1h-1l-2 -2h-1l-1 -1h-1l-1 -1h-1l-2 -2h-1l-1 -1h-1l-1 -1h-1l-2 -2h-1l-2 -2h-1l-2 -2h-1l-2 -2h-1l-2 -2h-1l-2 -2h-1l-2 -2h-1l-2 -2h-1l-2 -2h-1l-2 -2h-1l-1 -1h-1l-2 -2h-1l-2 -2h-1l-2 -2h-1l-2 -2h-1l-2 -2h-1l-2 -2h-1l-2 -2h-1l-2 -2h-1l-2 -2h-1l-2 -2h-1l-5 -5h-1l-1 -1h-1l-2 -2h-1l-1 -1h-1l-2 -2h-1l-2 -2h-1l-1 -1h-1l-2 -2h-1l-3 -3h-1l-3 -3h-1l-3 -3h-1l-3 -3h-1l-3 -3h-1l-3 -3h-1l-3 -3h-1l-3 -3h-1l-3 -3h-1l-5 -5h-1l-3 -3h-1l-3 -3h-1l-3 -3h-1l-3 -3h-1l-5 -5h-1l-5 -5h-1l-6 -6h-1l-7 -7h-1l-9 -9h-1l-5 -5h-1l-2 -2h-1l-4 -4h-1l-5 -5h-1l-4 -4h-1l-32 -32v-1l-12 -12v-1l-3 -3v-1l-4 -4h-1l-7 -7h-1l-7 -7v-1l-7 -7v-1l-7 -7v-1l-5 -5v-1l-4 -4v-1l-4 -4v-1l-5 -5v-1l-4 -4v-1l-3 -3v-1M1086 457h-1l-1 -1h-1l-1 -1h-1l-1 -1h-1l-1 -1h-1l-1 -1h-1l-1 -1h-1l-1 -1h-1l-1 -1h-1l-1 -1h-1l-1 -1h-2l-1 -1h-1l-1 -1h-1l-1 -1h-2l-1 -1h-1l-1 -1h-1l-1 -1h-2l-1 -1h-1l-1 -1h-1l-1 -1h-1l-1 -1h-1l-1 -1h-1l-1 -1h-1l-1 -1h-1l-1 -1h-1l-1 -1h-1l-1 -1h-1l-1 -1h-1l-1 -1h-1l-1 -1h-2l-1 -1h-1l-1 -1h-1l-1 -1h-1l-1 -1h-1l-1 -1h-1l-1 -1h-1l-1 -1h-1l-1 -1h-1l-1 -1h-1l-1 -1h-2l-1 -1h-1l-1 -1h-1l-1 -1h-1l-1 -1h-1l-1 -1h-1l-1 -1h-1l-1 -1h-1l-1 -1h-2l-1 -1h-1l-2 -2h-1l-1 -1h-1l-1 -1h-1l-1 -1h-1l-1 -1h-1l-2 -2h-1l-1 -1h-1l-1 -1h-1l-1 -1h-1l-2 -2h-1l-1 -1h-1l-1 -1h-1l-1 -1h-1l-1 -1h-1l-1 -1h-1l-1 -1h-1l-1 -1h-1l-1 -1h-1l-1 -1h-1l-1 -1h-1l-1 -1h-1l-1 -1h-1l-1 -1h-1l-1 -1h-1l-1 -1h-1l-1 -1h-1l-1 -1h-1l-1 -1h-1l-1 -1h-1l-1 -1h-1l-1 -1h-1l-1 -1h-1l-1 -1h-1l-1 -1h-1l-1 -1h-1l-2 -2h-1l-1 -1h-1l-1 -1h-1l-1 -1h-1l-2 -2h-1l-2 -2h-1l-1 -1h-1l-2 -2h-1l-1 -1h-1l-1 -1h-1l-1 -1h-1l-1 -1h-1l-1 -1h-1l-2 -2h-1l-1 -1h-1l-1 -1h-1l-1 -1h-1l-1 -1h-1l-1 -1h-1l-1 -1h-1l-1 -1h-1l-1 -1h-1l-1 -1h-1l-2 -2h-1l-2 -2h-1l-2 -2h-1l-1 -1h-1l-2 -2h-1l-2 -2h-1l-2 -2h-1l-1 -1h-1l-1 -1h-1l-1 -1h-1l-1 -1h-1l-2 -2h-1l-1 -1h-1l-2 -2h-1l-2 -2h-1l-1 -1h-1l-2 -2h-1l-1 -1h-1l-1 -1h-1l-2 -2h-1l-1 -1h-1l-1 -1h-1l-2 -2h-1l-1 -1h-1l-1 -1h-1l-2 -2h-1l-3 -3h-1l-2 -2h-1l-3 -3h-1l-3 -3h-1l-1 -1h-1l-2 -2h-1l-1 -1h-1l-2 -2h-1l-2 -2h-1l-1 -1h-1l-2 -2h-1l-2 -2h-1l-1 -1h-1l-2 -2h-1l-2 -2h-1l-2 -2h-1l-2 -2h-1l-2 -2h-1l-2 -2h-1l-2 -2h-1l-2 -2h-1l-3 -3h-1l-2 -2h-1l-3 -3h-1l-3 -3h-1l-4 -4h-1l-2 -2h-1l-2 -2h-1l-2 -2h-1l-2 -2h-1l-2 -2h-1l-2 -2h-1l-3 -3h-1l-3 -3h-1l-3 -3h-1l-3 -3h-1l-3 -3h-1l-5 -5h-1l-5 -5h-1l-6 -6h-1l-7 -7h-1l-3 -3h-1l-2 -2h-1l-3 -3h-1l-3 -3h-1l-3 -3h-1l-4 -4h-1l-5 -5h-1l-4 -4h-1l-11 -11h-1l-18 -18v-1l-10 -10h-1l-5 -5h-1l-6 -6h-1l-6 -6h-1l-8 -8v-1l-10 -10v-1l-8 -8v-1l-5 -5v-1l-5 -5v-1l-5 -5M1086 408h-1l-1 -1h-1l-1 -1h-1l-1 -1h-2l-1 -1h-1l-1 -1h-1l-1 -1h-2l-1 -1h-1l-1 -1h-1l-1 -1h-2l-1 -1h-1l-1 -1h-1l-1 -1h-1l-1 -1h-1l-1 -1h-1l-1 -1h-1l-1 -1h-1l-1 -1h-1l-1 -1h-1l-1 -1h-1l-1 -1h-1l-2 -2h-1l-1 -1h-1l-1 -1h-1l-1 -1h-1l-1 -1h-2l-1 -1h-1l-1 -1h-1l-1 -1h-1l-1 -1h-1l-1 -1h-1l-1 -1h-1l-1 -1h-1l-1 -1h-1l-1 -1h-1l-1 -1h-1l-1 -1h-1l-1 -1h-1l-1 -1h-1l-2 -2h-1l-1 -1h-1l-1 -1h-1l-1 -1h-1l-2 -2h-1l-1 -1h-1l-1 -1h-1l-1 -1h-1l-1 -1h-1l-1 -1h-2l-1 -1h-1l-1 -1h-1l-1 -1h-1l-1 -1h-1l-1 -1h-1l-1 -1h-1l-1 -1h-1l-1 -1h-1l-1 -1h-1l-2 -2h-1l-1 -1h-1l-1 -1h-1l-1 -1h-1l-1 -1h-1l-1 -1h-1l-1 -1h-1l-1 -1h-1l-1 -1h-1l-1 -1h-1l-2 -2h-1l-1 -1h-1l-2 -2h-1l-2 -2h-1l-1 -1h-1l-1 -1h-1l-1 -1h-1l-1 -1h-1l-1 -1h-1l-2 -2h-1l-1 -1h-1l-1 -1h-1l-1 -1h-1l-1 -1h-1l-2 -2h-1l-1 -1h-1l-1 -1h-1l-1 -1h-1l-2 -2h-1l-1 -1h-1l-2 -2h-1l-2 -2h-1l-1 -1h-1l-2 -2h-1l-2 -2h-1l-1 -1h-1l-2 -2h-1l-1 -1h-1l-2 -2h-1l-2 -2h-1l-1 -1h-1l-1 -1h-1l-1 -1h-1l-1 -1h-1l-1 -1h-1l-2 -2h-1l-1 -1h-1l-2 -2h-1l-1 -1h-1l-2 -2h-1l-1 -1h-1l-2 -2h-1l-1 -1h-1l-2 -2h-1l-1 -1h-1l-2 -2h-1l-2 -2h-1l-1 -1h-1l-2 -2h-1l-2 -2h-1l-1 -1h-1l-2 -2h-1l-3 -3h-1l-2 -2h-1l-2 -2h-1l-3 -3h-1l-2 -2h-1l-3 -3h-1l-2 -2h-1l-2 -2h-1l-1 -1h-1l-2 -2h-1l-2 -2h-1l-2 -2h-1l-2 -2h-1l-2 -2h-1l-2 -2h-1l-2 -2h-1l-2 -2h-1l-2 -2h-1l-2 -2h-1l-3 -3h-1l-3 -3h-1l-3 -3h-1l-3 -3h-1l-3 -3h-1l-5 -5h-1l-4 -4h-1l-2 -2h-1l-3 -3h-1l-2 -2h-1l-2 -2h-1l-3 -3h-1l-2 -2h-1l-3 -3h-1l-2 -2h-1l-3 -3h-1l-3 -3h-1l-4 -4h-1l-5 -5h-1l-4 -4h-1l-11 -11h-1l-17 -17h-1l-3 -3h-1l-3 -3h-1l-3 -3h-1l-4 -4h-1l-6 -6h-1l-6 -6h-1l-13 -13v-1l-13 -13v-1l-7 -7v-1l-3 -3M1086 361h-1l-1 -1h-1l-1 -1h-1l-1 -1h-1l-1 -1h-1l-1 -1h-1l-1 -1h-1l-1 -1h-1l-1 -1h-1l-1 -1h-1l-1 -1h-2l-1 -1h-1l-1 -1h-1l-1 -1h-1l-1 -1h-1l-1 -1h-1l-1 -1h-1l-1 -1h-1l-1 -1h-1l-1 -1h-1l-1 -1h-1l-1 -1h-1l-1 -1h-1l-1 -1h-1l-1 -1h-1l-1 -1h-1l-2 -2h-1l-1 -1h-1l-1 -1h-1l-1 -1h-1l-1 -1h-1l-1 -1h-1l-2 -2h-1l-1 -1h-1l-1 -1h-1l-1 -1h-1l-1 -1h-1l-1 -1h-1l-1 -1h-1l-1 -1h-1l-2 -2h-1l-1 -1h-1l-1 -1h-1l-1 -1h-1l-1 -1h-1l-1 -1h-1l-1 -1h-1l-1 -1h-1l-1 -1h-1l-1 -1h-1l-2 -2h-1l-1 -1h-1l-1 -1h-1l-1 -1h-1l-1 -1h-1l-2 -2h-1l-1 -1h-1l-1 -1h-1l-1 -1h-1l-2 -2h-1l-1 -1h-1l-2 -2h-1l-2 -2h-1l-1 -1h-1l-1 -1h-1l-1 -1h-1l-1 -1h-1l-1 -1h-1l-2 -2h-1l-1 -1h-1l-1 -1h-1l-1 -1h-1l-1 -1h-1l-1 -1h-1l-1 -1h-1l-1 -1h-1l-1 -1h-1l-1 -1h-1l-2 -2h-1l-2 -2h-1l-2 -2h-1l-1 -1h-1l-2 -2h-1l-2 -2h-1l-2 -2h-1l-2 -2h-1l-1 -1h-1l-2 -2h-1l-2 -2h-1l-1 -1h-1l-2 -2h-1l-2 -2h-1l-1 -1h-1l-2 -2h-1l-1 -1h-1l-1 -1h-1l-2 -2h-1l-1 -1h-1l-1 -1h-1l-2 -2h-1l-1 -1h-1l-1 -1h-1l-2 -2h-1l-2 -2h-1l-2 -2h-1l-1 -1h-1l-2 -2h-1l-2 -2h-1l-2 -2h-1l-2 -2h-1l-3 -3h-1l-2 -2h-1l-3 -3h-1l-2 -2h-1l-3 -3h-1l-3 -3h-1l-5 -5h-1l-2 -2h-1l-1 -1h-1l-1 -1h-1l-1 -1h-1l-1 -1h-1l-2 -2h-1l-2 -2h-1l-3 -3h-1l-2 -2h-1l-2 -2h-1l-3 -3h-1l-2 -2h-1l-3 -3h-1l-2 -2h-1l-3 -3h-1l-2 -2h-1l-3 -3h-1l-3 -3h-1l-4 -4h-1l-5 -5h-1l-4 -4h-1l-9 -9h-1l-9 -9h-1l-3 -3h-1l-3 -3h-1l-2 -2h-1l-3 -3h-1l-2 -2h-1l-3 -3h-1l-4 -4h-1l-6 -6h-1l-6 -6h-1l-12 -12h-1l-15 -15v-1l-4 -4M1086 315h-1l-1 -1h-1l-1 -1h-1l-1 -1h-1l-1 -1h-1l-1 -1h-1l-1 -1h-1l-1 -1h-1l-1 -1h-1l-1 -1h-1l-1 -1h-1l-1 -1h-1l-1 -1h-1l-1 -1h-1l-2 -2h-1l-1 -1h-1l-1 -1h-1l-2 -2h-1l-1 -1h-1l-1 -1h-1l-2 -2h-1l-1 -1h-1l-1 -1h-1l-1 -1h-1l-1 -1h-1l-1 -1h-1l-1 -1h-1l-1 -1h-1l-1 -1h-1l-1 -1h-1l-1 -1h-1l-1 -1h-1l-1 -1h-1l-1 -1h-1l-1 -1h-1l-1 -1h-1l-1 -1h-1l-1 -1h-1l-1 -1h-1l-1 -1h-1l-2 -2h-1l-1 -1h-1l-1 -1h-1l-2 -2h-1l-1 -1h-1l-1 -1h-1l-2 -2h-1l-1 -1h-1l-1 -1h-1l-2 -2h-1l-1 -1h-1l-2 -2h-1l-1 -1h-1l-2 -2h-1l-1 -1h-1l-2 -2h-1l-1 -1h-1l-2 -2h-1l-1 -1h-1l-1 -1h-1l-2 -2h-1l-1 -1h-1l-1 -1h-1l-2 -2h-1l-1 -1h-1l-1 -1h-1l-2 -2h-1l-1 -1h-1l-1 -1h-1l-2 -2h-1l-1 -1h-1l-1 -1h-1l-2 -2h-1l-1 -1h-1l-1 -1h-1l-2 -2h-1l-2 -2h-1l-3 -3h-1l-2 -2h-1l-2 -2h-1l-3 -3h-1l-2 -2h-1l-2 -2h-1l-2 -2h-1l-3 -3h-1l-2 -2h-1l-2 -2h-1l-1 -1h-1l-2 -2h-1l-1 -1h-1l-1 -1h-1l-2 -2h-1l-1 -1h-1l-1 -1h-1l-2 -2h-1l-1 -1h-1l-1 -1h-1l-2 -2h-1l-2 -2h-1l-3 -3h-1l-2 -2h-1l-2 -2h-1l-3 -3h-1l-2 -2h-1l-3 -3h-1l-2 -2h-1l-3 -3h-1l-2 -2h-1l-3 -3h-1l-3 -3h-1l-4 -4h-1l-5 -5h-1l-4 -4h-1l-8 -8h-1l-2 -2h-1l-2 -2h-1l-2 -2h-1l-2 -2h-1l-2 -2h-1l-3 -3h-1l-2 -2h-1l-3 -3h-1l-2 -2h-1l-3 -3h-1l-3 -3h-1l-3 -3h-1l-3 -3h-1l-3 -3h-1l-3 -3h-1l-11 -11h-1l-15 -15M1086 270l-1 -1h-1l-1 -1h-1l-1 -1h-1l-1 -1h-1l-1 -1h-1l-1 -1h-1l-1 -1h-1l-1 -1h-1l-1 -1h-1l-1 -1h-1l-2 -2h-1l-1 -1h-1l-1 -1h-1l-2 -2h-1l-1 -1h-1l-1 -1h-1l-2 -2h-1l-1 -1h-1l-1 -1h-1l-1 -1h-1l-1 -1h-1l-1 -1h-1l-1 -1h-1l-1 -1h-1l-1 -1h-1l-1 -1h-1l-1 -1h-1l-1 -1h-1l-1 -1h-1l-2 -2h-1l-1 -1h-1l-1 -1h-1l-2 -2h-1l-1 -1h-1l-1 -1h-1l-2 -2h-1l-1 -1h-1l-1 -1h-1l-2 -2h-1l-1 -1h-1l-2 -2h-1l-2 -2h-1l-1 -1h-1l-2 -2h-1l-2 -2h-1l-1 -1h-1l-2 -2h-1l-2 -2h-1l-2 -2h-1l-3 -3h-1l-2 -2h-1l-2 -2h-1l-1 -1h-1l-1 -1h-1l-1 -1h-1l-1 -1h-1l-2 -2h-1l-1 -1h-1l-1 -1h-1l-2 -2h-1l-1 -1h-1l-1 -1h-1l-2 -2h-1l-1 -1h-1l-1 -1h-1l-2 -2h-1l-1 -1h-1l-1 -1h-1l-2 -2h-1l-1 -1h-1l-1 -1h-1l-2 -2h-1l-2 -2h-1l-3 -3h-1l-2 -2h-1l-2 -2h-1l-3 -3h-1l-2 -2h-1l-3 -3h-1l-2 -2h-1l-3 -3h-1l-2 -2h-1l-3 -3h-1l-3 -3h-1l-4 -4h-1l-5 -5h-1l-2 -2h-1l-1 -1h-1l-1 -1h-1l-1 -1h-1l-2 -2h-1l-3 -3h-1l-2 -2h-1l-2 -2h-1l-3 -3h-1l-2 -2h-1l-2 -2h-1l-2 -2h-1l-2 -2h-1l-2 -2h-1l-2 -2h-1l-2 -2h-1l-3 -3h-1l-3 -3h-1l-3 -3h-1l-3 -3h-1l-3 -3h-1l-6 -6h-1l-9 -9h-1l-6 -6M1086 226l-1 -1h-1l-1 -1h-1l-1 -1h-1l-2 -2h-1l-1 -1h-1l-1 -1h-1l-2 -2h-1l-1 -1h-1l-1 -1h-1l-2 -2h-1l-1 -1h-1l-2 -2h-1l-2 -2h-1l-1 -1h-1l-2 -2h-1l-2 -2h-1l-1 -1h-1l-2 -2h-1l-2 -2h-1l-1 -1h-1l-1 -1h-1l-1 -1h-1l-1 -1h-1l-1 -1h-1l-1 -1h-1l-1 -1h-1l-2 -2h-1l-1 -1h-1l-1 -1h-1l-1 -1h-1l-1 -1h-1l-1 -1h-1l-1 -1h-1l-1 -1h-1l-1 -1h-1l-1 -1h-1l-2 -2h-1l-1 -1h-1l-2 -2h-1l-2 -2h-1l-1 -1h-1l-2 -2h-1l-2 -2h-1l-1 -1h-1l-2 -2h-1l-2 -2h-1l-2 -2h-1l-1 -1h-1l-2 -2h-1l-2 -2h-1l-2 -2h-1l-2 -2h-1l-3 -3h-1l-2 -2h-1l-3 -3h-1l-2 -2h-1l-3 -3h-1l-3 -3h-1l-4 -4h-1l-1 -1h-1l-1 -1h-1l-1 -1h-1l-1 -1h-1l-1 -1h-1l-1 -1h-1l-2 -2h-1l-2 -2h-1l-2 -2h-1l-1 -1h-1l-2 -2h-1l-2 -2h-1l-2 -2h-1l-2 -2h-1l-2 -2h-1l-2 -2h-1l-2 -2h-1l-2 -2h-1l-2 -2h-1l-2 -2h-1l-3 -3h-1l-3 -3h-1l-3 -3h-1l-3 -3h-1l-3 -3h-1l-5 -5h-1l-5 -5h-1l-6 -6h-1M1086 182l-1 -1h-1l-1 -1h-1l-1 -1h-1l-1 -1h-1l-1 -1h-1l-1 -1h-1l-1 -1h-1l-1 -1h-1l-1 -1h-1l-1 -1h-1l-2 -2h-1l-1 -1h-1l-2 -2h-1l-2 -2h-1l-1 -1h-1l-2 -2h-1l-2 -2h-1l-1 -1h-1l-2 -2h-1l-2 -2h-1l-2 -2h-1l-1 -1h-1l-2 -2h-1l-2 -2h-1l-2 -2h-1l-2 -2h-1l-3 -3h-1l-3 -3h-1l-3 -3h-1l-2 -2h-1l-1 -1h-1l-1 -1h-1l-1 -1h-1l-1 -1h-1l-1 -1h-1l-2 -2h-1l-1 -1h-1l-1 -1h-1l-2 -2h-1l-1 -1h-1l-1 -1h-1l-2 -2h-1l-1 -1h-1l-2 -2h-1l-1 -1h-1l-2 -2h-1l-1 -1h-1l-2 -2h-1l-1 -1h-1l-2 -2h-1l-2 -2h-1l-2 -2h-1l-2 -2h-1l-2 -2h-1l-2 -2h-1l-2 -2h-1l-2 -2h-1l-3 -3h-1l-2 -2h-1l-3 -3h-1l-2 -2h-1l-3 -3h-1l-4 -4h-1l-5 -5h-1l-2 -2M1086 137l-1 -1h-1l-2 -2h-1l-1 -1h-1l-1 -1h-1l-1 -1h-1l-1 -1h-1l-1 -1h-1l-1 -1h-1l-1 -1h-1l-1 -1h-1l-1 -1h-1l-1 -1h-1l-1 -1h-1l-1 -1h-1l-1 -1h-1l-1 -1h-1l-1 -1h-1l-1 -1h-1l-1 -1h-1l-1 -1h-1l-2 -2h-1l-2 -2h-1l-2 -2h-1l-1 -1h-1l-2 -2h-1l-2 -2h-1l-2 -2h-1l-2 -2h-1l-1 -1h-1l-2 -2h-1l-2 -2h-1l-1 -1h-1l-2 -2h-1l-2 -2h-1l-1 -1h-1l-2 -2h-1l-2 -2h-1l-2 -2h-1l-2 -2h-1l-2 -2h-1l-2 -2h-1l-2 -2h-1l-4 -4h-1l-4 -4M1086 98l-1 -1h-1l-1 -1h-1l-2 -2h-1l-2 -2h-1l-1 -1h-1l-2 -2h-1l-2 -2h-1l-1 -1h-1l-2 -2h-1l-2 -2h-1l-2 -2h-1l-2 -2h-1l-2 -2h-1l-2 -2h-1l-2 -2h-1l-2 -2h-1l-2 -2"/>
<path stroke="#ff0000" d="M314 801l-2 -2h-1l-4 -4h-1l-1 -1h-1l-1 -1h-1l-1 -1h-1l-1 -1h-1l-2 -2h-1l-2 -2h-1l-1 -1h-1l-2 -2h-1l-2 -2h-1l-2 -2h-1l-1 -1h-1l-1 -1h-1l-3 -3h-1l-2 -2h-1l-1 -1h-1l-2 -2h-1l-2 -2h-1l-1 -1h-1l-2 -2h-1l-1 -1h-1l-1 -1h-1l-1 -1h-1l-1 -1h-1l-2 -2h-1l-3 -3h-1l-2 -2h-1l-2 -2h-1l-2 -2h-1l-2 -2h-1l-1 -1h-1l-2 -2h-1l-2 -2h-1l-2 -2h-1l-1 -1h-1l-2 -2h-1l-2 -2h-1l-2 -2h-1l-2 -2h-1l-2 -2h-1l-2 -2h-1l-3 -3h-1l-1 -1h-1l-1 -1h-1l-2 -2h-1l-2 -2h-1l-2 -2h-1l-2 -2h-1l-1 -1h-1l-2 -2h-1l-3 -3h-1l-2 -2h-1l-3 -3h-1l-2 -2h-1l-2 -2h-1l-1 -1M458 801l-2 -2h-1l-4 -4h-1l-1 -1h-1l-1 -1h-1l-2 -2h-1l-2 -2h-1l-2 -2h-1l-3 -3h-1l-2 -2h-1l-1 -1h-1l-1 -1h-1l-3 -3h-1l-2 -2h-1l-2 -2h-1l-3 -3h-1l-2 -2h-1l-1 -1h-1l-1 -1h-1l-3 -3h-1l-1 -1h-1l-1 -1h-1l-2 -2h-1l-3 -3h-1l-3 -3h-1l-1 -1h-1l-2 -2h-1l-2 -2h-1l-1 -1h-1l-1 -1h-1l-1 -1h-1l-2 -2h-1l-1 -1h-1l-2 -2h-1l-3 -3h-1l-1 -1h-1l-2 -2h-1l-2 -2h-1l-2 -2h-1l-2 -2h-1l-2 -2h-1l-1 -1h-1l-1 -1h-1l-1 -1h-1l-2 -2h-1l-1 -1h-1l-2 -2h-1l-1 -1h-1l-3 -3h-1l-2 -2h-1l-1 -1h-1l-2 -2h-1l-2 -2h-1l-3 -3h-1l-2 -2h-1l-1 -1h-1l-1 -1h-1l-2 -2h-1l-2 -2h-1l-2 -2h-1l-3 -3h-1l-2 -2h-1l-1 -1h-1l-1 -1h-1l-2 -2h-1l-3 -3h-1l-2 -2h-1l-1 -1h-1l-2 -2h-1l-2 -2h-1l-2 -2h-1l-2 -2h-1l-1 -1h-1l-2 -2h-1l-2 -2h-1l-1 -1h-1l-2 -2h-1l-3 -3h-1l-3 -3h-1l-2 -2h-1l-2 -2h-1l-2 -2h-1l-2 -2h-1l-2 -2h-1l-4 -4h-1l-2 -2h-1l-3 -3h-1l-2 -2h-1l-3 -3h-1l-3 -3h-1l-1 -1h-1l-1 -1h-1l-3 -3h-1l-3 -3h-1l-3 -3h-1l-3 -3h-1l-7 -7h-1l-2 -2h-1l-3 -3h-1l-2 -2h-1l-4 -4M576 801l-8 -8h-1l-3 -3h-1l-8 -8h-1l-2 -2h-1l-4 -4h-1l-4 -4h-1l-5 -5h-1l-4 -4h-1l-2 -2h-1l-1 -1h-1l-3 -3h-1l-4 -4h-1l-3 -3h-1l-2 -2h-1l-3 -3h-1l-2 -2h-1l-1 -1h-1l-2 -2h-1l-2 -2h-1l-3 -3h-1l-2 -2h-1l-3 -3h-1l-4 -4h-1l-1 -1h-1l-1 -1h-1l-1 -1h-1l-3 -3h-1l-2 -2h-1l-1 -1h-1l-2 -2h-1l-2 -2h-1l-2 -2h-1l-2 -2h-1l-3 -3h-1l-4 -4h-1l-1 -1h-1l-2 -2h-1l-1 -1h-1l-2 -2h-1l-1 -1h-1l-2 -2h-1l-1 -1h-1l-1 -1v-1l-1 -1h-1l-2 -2h-1l-1 -1h-1l-2 -2h-1l-2 -2h-1l-2 -2h-1l-2 -2h-1l-1 -1h-1l-2 -2h-1l-2 -2h-1l-1 -1h-1l-2 -2h-1l-2 -2h-1l-1 -1h-1l-2 -2h-1l-1 -1h-1l-1 -1h-1l-2 -2h-1l-2 -2h-1l-2 -2h-1l-2 -2h-1l-2 -2h-1l-1 -1h-1l-2 -2h-1l-3 -3h-1l-2 -2h-1l-2 -2h-1l-3 -3h-1l-2 -2h-1l-2 -2h-1l-1 -1h-1l-2 -2h-1l-2 -2h-1l-1 -1h-1l-2 -2h-1l-3 -3h-1l-3 -3h-1l-1 -1h-1l-2 -2h-1l-3 -3h-1l-2 -2h-1l-3 -3h-1l-1 -1h-1l-2 -2h-1l-2 -2h-1l-2 -2h-1l-2 -2h-1l-2 -2h-1l-3 -3h-1l-3 -3h-1l-3 -3h-1l-2 -2h-1l-3 -3h-1l-2 -2h-1l-3 -3h-1l-2 -2h-1l-2 -2h-1l-2 -2h-1l-3 -3h-1l-2 -2h-1l-3 -3h-1l-4 -4h-1l-4 -4h-1l-4 -4h-1l-4 -4h-1l-4 -4h-1l-5 -5h-1l-4 -4h-1l-4 -4h-1l-5 -5h-1l-5 -5h-1l-5 -5h-1l-3 -3h-1l-4 -4h-1l-6 -6h-1l-9 -9M668 801l-1 -1v-1l-1 -1v-1l-11 -11v-1l-2 -2v-1l-2 -2h-1l-3 -3v-1l-16 -16h-1l-2 -2v-1l-5 -5h-1l-9 -9h-1l-7 -7h-1l-11 -11h-1l-2 -2h-1l-2 -2h-1l-3 -3h-1l-5 -5h-1l-4 -4h-1l-4 -4h-1l-3 -3h-1l-3 -3h-1l-3 -3h-1l-3 -3h-1l-4 -4h-1l-2 -2h-1l-3 -3h-1l-3 -3h-1l-3 -3h-1l-2 -2h-1l-1 -1h-1l-2 -2h-1l-3 -3h-1l-2 -2h-1l-2 -2h-1l-3 -3h-1l-1 -1h-1l-1 -1h-1l-2 -2h-1l-2 -2h-1l-2 -2h-1l-2 -2h-1l-3 -3h-1l-2 -2h-1l-1 -1h-1l-2 -2h-1l-3 -3h-1l-3 -3h-1l-3 -3h-1l-3 -3h-1l-1 -1h-1l-1 -1h-1l-1 -1h-1l-2 -2h-1l-2 -2h-1l-2 -2h-1l-2 -2h-1l-1 -1h-1l-2 -2h-1l-3 -3h-1l-2 -2h-1l-3 -3h-1l-2 -2h-1l-1 -1h-1l-2 -2h-1l-1 -1h-1l-2 -2h-1l-1 -1h-1l-3 -3h-1l-4 -4h-1l-3 -3h-1l-1 -1h-1l-2 -2h-1l-1 -1h-1l-2 -2h-1l-2 -2h-1l-1 -1h-1l-2 -2h-1l-2 -2h-1l-2 -2h-1l-2 -2h-1l-3 -3h-1l-2 -2h-1l-3 -3h-1l-3 -3h-1l-2 -2h-1l-2 -2h-1l-2 -2h-1l-2 -2h-1l-3 -3h-1l-3 -3h-1l-2 -2h-1l-3 -3h-1l-2 -2h-1l-3 -3h-1l-3 -3h-1l-2 -2h-1l-3 -3h-1l-2 -2h-1l-3 -3h-1l-2 -2h-1l-3 -3h-1l-6 -6h-1l-3 -3h-1l-3 -3h-1l-3 -3h-1l-2 -2h-1l-1 -1h-1l-3 -3h-1l-5 -5h-1l-5 -5h-1l-7 -7h-1l-5 -5h-1l-5 -5h-1l-3 -3h-1l-5 -5h-1l-8 -8h-1l-11 -11h-1l-8 -8h-1l-16 -16h-1l-20 -20v-1l-8 -8M739 801v-1l-1 -1v-1l-1 -1v-1l-1 -1v-1l-3 -3v-1l-2 -2v-1l-1 -1v-1l-1 -1v-1l-5 -5v-1l-1 -1v-1l-2 -2v-1l-1 -1v-1l-2 -2v-1l-1 -1v-1l-2 -2v-1l-1 -1h-1l-2 -2v-1l-2 -2v-1l-3 -3v-1l-4 -4v-1l-4 -4v-1l-3 -3v-1l-6 -6v-1l-15 -15v-1l-3 -3h-1l-4 -4v-1l-19 -19h-1l-7 -7h-1l-5 -5h-1l-3 -3h-1l-5 -5h-1l-3 -3h-1l-9 -9h-1l-2 -2h-1l-3 -3h-1l-3 -3h-1l-8 -8h-1l-1 -1h-1l-2 -2h-1l-3 -3h-1l-3 -3h-1l-3 -3h-1l-3 -3h-1l-1 -1h-1l-2 -2h-1l-2 -2h-1l-2 -2h-1l-3 -3h-1l-2 -2h-1l-1 -1v-1l-1 -1h-1l-2 -2h-1l-1 -1h-1l-2 -2h-1l-2 -2h-1l-3 -3h-1l-4 -4h-1l-2 -2h-1l-2 -2h-1l-2 -2h-1l-2 -2h-1l-2 -2h-1l-2 -2h-1l-1 -1h-1l-1 -1h-1l-2 -2h-1l-2 -2h-1l-2 -2h-1l-1 -1h-1l-2 -2h-1l-2 -2h-1l-1 -1v-1l-1 -1h-1l-2 -2h-1l-2 -2h-1l-1 -1h-1l-2 -2h-1l-2 -2h-1l-2 -2h-1l-2 -2h-1l-2 -2h-1l-2 -2h-1l-3 -3h-1l-2 -2h-1l-2 -2h-1l-1 -1h-1l-2 -2h-1l-3 -3h-1l-2 -2h-1l-3 -3h-1l-2 -2h-1l-3 -3h-1l-2 -2h-1l-2 -2h-1l-3 -3h-1l-2 -2h-1l-2 -2h-1l-3 -3h-1l-2 -2h-1l-2 -2h-1l-1 -1h-1l-2 -2h-1l-2 -2h-1l-4 -4h-1l-4 -4h-1l-3 -3h-1l-2 -2h-1l-3 -3h-1l-2 -2h-1l-3 -3h-1l-2 -2h-1l-3 -3h-1l-3 -3h-1l-3 -3h-1l-8 -8h-1l-4 -4h-1l-3 -3h-1l-4 -4h-1l-2 -2h-1l-3 -3h-1l-4 -4h-1l-5 -5h-1l-4 -4h-1l-2 -2v-1l-4 -4h-1l-5 -5h-1l-5 -5h-1l-4 -4h-1l-3 -3h-1l-7 -7h-1l-23 -23h-1l-13 -13v-1l-21 -21v-1l-13 -13v-1l-7 -7v-1l-8 -8v-1l-6 -6v-1l-3 -3v-1l-4 -4v-1l-3 -3v-1l-3 -3v-1l-3 -3v-1l-2 -2M795 801v-1l-1 -1v-1l-1 -1v-2l-1 -1v-1l-1 -1v-1l-1 -1v-1l-1 -1v-1l-1 -1v-1l-1 -1v-2l-1 -1v-1l-1 -1v-1l-1 -1v-1l-1 -1v-2l-1 -1v-1l-1 -1v-1l-1 -1v-1l-1 -1v-1l-1 -1v-1l-1 -1v-1l-1 -1v-1l-1 -1v-1l-1 -1v-1l-2 -2v-1l-1 -1v-1l-2 -2v-1l-1 -1v-1l-2 -2v-1l-1 -1v-1l-1 -1v-1l-1 -1v-1l-1 -1v-1l-2 -2v-1l-2 -2v-1l-1 -1v-1l-1 -1v-1l-3 -3v-1l-2 -2v-1l-3 -3v-1l-4 -4v-1l-1 -1v-1l-1 -1v-1l-3 -3v-1l-4 -4v-1l-2 -2v-1l-5 -5v-1l-6 -6v-1l-4 -4v-1l-3 -3v-1l-1 -1h-1l-10 -10v-1l-25 -25h-1l-9 -9h-1l-9 -9h-1l-6 -6h-1l-3 -3h-1l-3 -3h-1l-4 -4h-1l-3 -3h-1l-7 -7h-1l-3 -3h-1l-2 -2h-1l-3 -3h-1l-2 -2h-1l-2 -2h-1l-2 -2h-1l-3 -3h-1l-2 -2h-1l-4 -4h-1l-4 -4h-1l-2 -2h-1l-2 -2h-1l-2 -2h-1l-3 -3h-1l-3 -3h-1l-3 -3h-1l-2 -2h-1l-2 -2h-1l-2 -2h-1l-2 -2h-1l-2 -2h-1l-2 -2h-1l-2 -2h-1l-3 -3h-1l-2 -2h-1l-2 -2h-1l-3 -3h-1l-2 -2h-1l-2 -2h-1l-3 -3h-1l-2 -2h-1l-2 -2h-1l-1 -1h-1l-2 -2h-1l-2 -2h-1l-2 -2h-1l-1 -1h-1l-2 -2h-1l-2 -2h-1l-2 -2h-1l-3 -3h-1l-2 -2h-1l-2 -2h-1l-3 -3h-1l-3 -3h-1l-3 -3h-1l-3 -3h-1l-3 -3h-1l-2 -2h-1l-1 -1h-1l-2 -2h-1l-2 -2h-1l-2 -2h-1l-3 -3h-1l-3 -3h-1l-4 -4h-1l-4 -4h-1l-3 -3h-1l-2 -2h-1l-2 -2h-1l-3 -3h-1l-3 -3h-1l-3 -3h-1l-3 -3h-1l-4 -4h-1l-3 -3h-1l-3 -3h-1l-3 -3h-1l-3 -3h-1l-3 -3h-1l-3 -3h-1l-5 -5h-1l-5 -5h-1l-6 -6h-1l-7 -7h-1l-11 -11h-1l-6 -6h-1l-6 -6h-1l-11 -11h-1l-7 -7h-1l-34 -34v-1l-13 -13v-1l-4 -4v-1l-17 -17v-1l-3 -3v-1l-3 -3v-1l-4 -4v-1l-3 -3v-1l-3 -3v-1l-6 -6v-1l-4 -4v-1l-3 -3v-1l-4 -4v-1l-4 -4v-1l-3 -3v-1l-2 -2v-1l-1 -1v-1l-2 -2v-1l-2 -2v-1l-2 -2v-1l-2 -2v-1l-1 -1v-1l-2 -2v-1l-2 -2v-1l-2 -2v-1l-3 -3v-1l-1 -1v-1l-2 -2v-1l-1 -1v-1l-2 -2v-1l-1 -1v-1l-2 -2v-1l-2 -2v-1l-1 -1v-1l-2 -2v-1l-1 -1v-1l-2 -2v-1l-1 -1v-1l-1 -1M840 801v-2l-1 -1v-4l-1 -1v-2l-1 -1v-1l-1 -1v-2l-1 -1v-3l-1 -1v-1l-1 -1v-1l-1 -1v-1l-1 -1v-3l-1 -1v-3l-1 -1v-1l-1 -1v-2l-1 -1v-1l-1 -1v-1l-1 -1v-2l-1 -1v-2l-1 -1v-1l-1 -1v-2l-1 -1v-1l-1 -1v-2l-1 -1v-1l-1 -1v-3l-1 -1v-2l-1 -1v-1l-1 -1v-1l-1 -1v-1l-1 -1v-1l-1 -1v-1l-1 -1v-2l-1 -1v-1l-1 -1v-1l-1 -1v-1l-1 -1v-1l-1 -1v-1l-1 -1v-1l-1 -1v-1l-1 -1v-1l-1 -1v-2l-1 -1v-1l-1 -1v-1l-2 -2v-1l-1 -1v-1l-1 -1v-1l-2 -2v-1l-1 -1v-1l-1 -1v-1l-2 -2v-1l-1 -1v-1l-1 -1v-1l-2 -2v-1l-3 -3v-1l-2 -2v-1l-3 -3v-1l-1 -1v-1l-1 -1v-1l-2 -2v-1l-3 -3v-1l-3 -3v-1l-3 -3v-1l-2 -2v-1l-2 -2v-1l-3 -3v-1l-9 -9v-1l-6 -6v-1l-4 -4v-1l-16 -16v-1l-10 -10h-1l-3 -3h-1l-7 -7h-1l-10 -10h-1l-5 -5h-1l-4 -4h-1l-3 -3h-1l-5 -5h-1l-6 -6h-1l-5 -5h-1l-4 -4h-1l-1 -1h-1l-2 -2h-1l-3 -3h-1l-3 -3h-1l-3 -3h-1l-5 -5h-1l-2 -2h-1l-2 -2h-1l-3 -3h-1l-2 -2h-1l-2 -2h-1l-1 -1h-1l-2 -2h-1l-3 -3h-1l-2 -2h-1l-3 -3h-1l-3 -3h-1l-2 -2h-1l-3 -3h-1l-3 -3h-1l-2 -2h-1l-2 -2h-1l-3 -3h-1l-2 -2h-1l-1 -1h-1l-2 -2h-1l-2 -2h-1l-2 -2h-1l-3 -3h-1l-2 -2h-1l-3 -3h-1l-3 -3h-1l-3 -3h-1l-3 -3h-1l-3 -3h-1l-2 -2h-1l-3 -3h-1l-2 -2h-1l-3 -3h-1l-2 -2h-1l-3 -3h-1l-2 -2h-1l-2 -2h-1l-2 -2h-1l-2 -2h-1l-2 -2h-1l-2 -2h-1l-2 -2h-1l-3 -3h-1l-3 -3h-1l-4 -4h-1l-5 -5h-1l-4 -4h-1l-3 -3h-1l-3 -3h-1l-3 -3h-1l-3 -3h-1l-4 -4h-1l-3 -3h-1l-3 -3h-1l-3 -3h-1l-3 -3h-1l-7 -7h-1l-7 -7h-1l-3 -3h-1l-5 -5h-1l-6 -6h-1l-6 -6h-1l-6 -6h-1l-9 -9h-1l-38 -38h-1l-14 -14v-1l-11 -11v-1l-8 -8v-1l-5 -5v-1l-5 -5v-1l-5 -5v-1l-4 -4v-1l-3 -3v-1l-4 -4v-1l-3 -3v-1l-4 -4v-1l-3 -3v-1l-2 -2v-1l-3 -3v-1l-4 -4v-1l-4 -4v-1l-4 -4v-1l-4 -4v-1l-3 -3v-1l-1 -1v-1l-2 -2v-1l-1 -1v-1l-1 -1v-1l-2 -2v-1l-1 -1v-1l-2 -2v-1l-1 -1v-1l-2 -2v-1l-1 -1v-1l-1 -1v-1l-2 -2v-1l-1 -1v-1l-2 -2v-1l-1 -1v-1l-1 -1v-1l-2 -2v-1l-1 -1v-1l-2 -2v-1l-1 -1v-1l-1 -1v-1l-2 -2v-1l-1 -1v-1l-2 -2v-1l-1 -1v-1l-1 -1v-1l-2 -2v-1l-1 -1v-1l-1 -1v-1l-1 -1v-1l-1 -1v-1l-1 -1v-1l-1 -1v-2l-1 -1v-1l-1 -1v-1l-1 -1v-1l-1 -1v-2l-1 -1v-1l-1 -1v-1l-1 -1v-1l-1 -1v-1l-1 -1v-2l-1 -1v-1l-1 -1v-1l-1 -1v-1M877 801v-2l-1 -1v-4l-1 -1v-3l-1 -1v-3l-1 -1v-4l-1 -1v-3l-1 -1v-4l-1 -1v-4l-1 -1v-3l-1 -1v-1l-1 -1v-3l-1 -1v-4l-1 -1v-3l-1 -1v-1l-1 -1v-3l-1 -1v-3l-1 -1v-2l-1 -1v-4l-1 -1v-2l-1 -1v-2l-1 -1v-2l-1 -1v-2l-1 -1v-2l-1 -1v-2l-1 -1v-2l-1 -1v-1l-1 -1v-1l-1 -1v-2l-1 -1v-2l-1 -1v-2l-1 -1v-3l-1 -1v-2l-1 -1v-1l-1 -1v-1l-1 -1v-2l-1 -1v-1l-1 -1v-1l-1 -1v-2l-1 -1v-2l-1 -1v-1l-2 -2v-1l-1 -1v-1l-1 -1v-1l-1 -1v-1l-1 -1v-2l-1 -1v-1l-1 -1v-2l-1 -1v-1l-1 -1v-1l-1 -1v-1l-2 -2v-1l-1 -1v-1l-1 -1v-1l-1 -1v-1l-1 -1v-1l-1 -1v-1l-1 -1v-1l-1 -1v-1l-1 -1h-1l-1 -1v-1l-1 -1v-1l-1 -1v-1l-1 -1v-1l-2 -2v-1l-1 -1v-1l-2 -2v-1l-1 -1v-1l-3 -3v-1l-3 -3v-1l-3 -3v-1l-2 -2v-1l-1 -1v-1l-2 -2v-1l-5 -5v-1l-6 -6v-1l-2 -2v-1l-2 -2v-1l-2 -2h-1l-6 -6v-1l-9 -9v-1l-23 -23h-1l-7 -7h-1l-9 -9h-1l-4 -4h-1l-3 -3h-1l-3 -3h-1l-5 -5h-1l-6 -6h-1l-2 -2h-1l-3 -3h-1l-3 -3h-1l-5 -5h-1l-3 -3h-1l-3 -3h-1l-3 -3h-1l-3 -3h-1l-3 -3h-1l-3 -3h-1l-3 -3h-1l-2 -2h-1l-2 -2h-1l-3 -3h-1l-2 -2h-1l-3 -3h-1l-3 -3h-1l-2 -2h-1l-3 -3h-1l-2 -2h-1l-3 -3h-1l-2 -2h-1l-2 -2h-1l-3 -3h-1l-2 -2h-1l-2 -2h-1l-3 -3h-1l-2 -2h-1l-2 -2h-1l-3 -3h-1l-2 -2h-1l-2 -2h-1l-3 -3h-1l-3 -3h-1l-3 -3h-1l-2 -2h-1l-3 -3h-1l-2 -2h-1l-3 -3h-1l-3 -3h-1l-3 -3h-1l-3 -3h-1l-3 -3h-1l-3 -3h-1l-3 -3h-1l-3 -3h-1l-3 -3h-1l-3 -3h-1l-3 -3h-1l-3 -3h-1l-3 -3h-1l-2 -2h-1l-3 -3h-1l-2 -2h-1l-3 -3h-1l-3 -3h-1l-5 -5h-1l-5 -5h-1l-7 -7h-1l-4 -4h-1l-5 -5h-1l-4 -4h-1l-10 -10h-1l-10 -10h-1l-10 -10h-1l-20 -20h-1l-10 -10v-1l-10 -10h-1l-12 -12v-1l-5 -5v-1l-5 -5v-1l-5 -5v-1l-6 -6v-1l-7 -7v-1l-7 -7v-1l-6 -6v-1l-3 -3v-1l-4 -4v-1l-3 -3v-1l-4 -4v-1l-3 -3v-1l-3 -3v-1l-2 -2v-1l-1 -1v-1l-2 -2v-1l-2 -2v-1l-2 -2v-1l-1 -1v-1l-2 -2v-1l-2 -2v-1l-2 -2v-1l-2 -2v-1l-2 -2v-1l-2 -2v-1l-1 -1v-1l-2 -2v-1l-2 -2v-1l-2 -2v-1l-1 -1v-1l-2 -2v-1l-2 -2v-1l-2 -2v-1l-1 -1v-1l-2 -2v-1l-1 -1v-1l-1 -1v-1l-1 -1v-1l-1 -1v-1l-1 -1v-1l-1 -1v-1l-1 -1v-1l-1 -1v-1l-1 -1v-1l-1 -1v-1l-1 -1v-1l-1 -1v-1M908 801v-7l-1 -1v-3l-1 -1v-8l-1 -1v-3l-1 -1v-4l-1 -1v-9l-1 -1v-4l-1 -1v-4l-1 -1v-6l-1 -1v-2l-1 -1v-5l-1 -1v-5l-1 -1v-4l-1 -1v-3l-1 -1v-2l-1 -1v-4l-1 -1v-3l-1 -1v-3l-1 -1v-4l-1 -1v-3l-1 -1v-3l-1 -1v-2l-1 -1v-3l-1 -1v-2l-1 -1v-3l-1 -1v-2l-1 -1v-3l-1 -1v-2l-1 -1v-3l-1 -1v-3l-1 -1v-1l-1 -1v-1l-1 -1v-2l-1 -1v-2l-1 -1v-1l-1 -1v-2l-1 -1v-2l-1 -1v-2l-1 -1v-2l-1 -1v-2l-1 -1v-1l-1 -1v-2l-1 -1v-1l-1 -1v-1l-1 -1v-1l-1 -1v-2l-1 -1v-1l-1 -1v-2l-1 -1v-1l-1 -1v-2l-2 -2v-1l-1 -1v-1l-1 -1v-1l-1 -1v-1l-1 -1v-1l-1 -1v-1l-1 -1v-1l-1 -1v-1l-1 -1v-1l-1 -1v-1l-1 -1v-1l-2 -2v-1l-1 -1v-1l-1 -1v-1l-1 -1v-1l-1 -1v-1l-1 -1v-1l-1 -1v-1l-3 -3v-1l-2 -2v-1l-2 -2v-1l-2 -2v-1l-2 -2v-1l-2 -2v-1l-3 -3v-1l-2 -2v-1l-2 -2v-1l-4 -4v-1l-3 -3v-1l-5 -5v-1l-6 -6v-1l-21 -21v-1l-7 -7h-1l-10 -10h-1l-8 -8h-1l-6 -6h-1l-7 -7h-1l-6 -6h-1l-5 -5h-1l-3 -3h-1l-3 -3h-1l-4 -4h-1l-3 -3h-1l-3 -3h-1l-3 -3h-1l-3 -3h-1l-3 -3h-1l-3 -3h-1l-2 -2h-1l-3 -3h-1l-2 -2h-1l-3 -3h-1l-2 -2h-1l-3 -3h-1l-3 -3h-1l-3 -3h-1l-3 -3h-1l-3 -3h-1l-3 -3h-1l-2 -2h-1l-3 -3h-1l-2 -2h-1l-3 -3h-1l-2 -2h-1l-3 -3h-1l-2 -2h-1l-3 -3h-1l-2 -2h-1l-3 -3h-1l-3 -3h-1l-3 -3h-1l-3 -3h-1l-3 -3h-1l-3 -3h-1l-2 -2h-1l-3 -3h-1l-2 -2h-1l-3 -3h-1l-2 -2h-1l-3 -3h-1l-3 -3h-1l-3 -3h-1l-3 -3h-1l-3 -3h-1l-3 -3h-1l-4 -4h-1l-4 -4h-1l-4 -4h-1l-4 -4h-1l-5 -5h-1l-5 -5h-1l-4 -4h-1l-3 -3h-1l-4 -4h-1l-4 -4h-1l-5 -5h-1l-4 -4h-1l-11 -11h-1l-9 -9v-1l-4 -4h-1l-6 -6h-1l-6 -6h-1l-26 -26v-1l-5 -5v-1l-18 -18v-1l-11 -11v-1l-7 -7v-1l-3 -3v-1l-4 -4v-1l-3 -3v-1l-4 -4v-1l-3 -3v-1l-3 -3v-1l-1 -1v-1l-3 -3v-1l-4 -4v-1l-5 -5v-1l-4 -4v-1l-3 -3v-1l-2 -2v-1l-2 -2v-1l-2 -2v-1l-2 -2v-1l-3 -3v-1l-2 -2v-1l-2 -2v-1l-2 -2v-1l-2 -2v-1l-2 -2v-1l-1 -1v-1l-1 -1v-1l-1 -1v-1l-2 -2v-1l-1 -1v-1M935 801v-7l-1 -1v-7l-1 -1v-8l-1 -1v-9l-1 -1v-9l-1 -1v-9l-1 -1v-4l-1 -1v-11l-1 -1v-4l-1 -1v-5l-1 -1v-11l-1 -1v-6l-1 -1v-5l-1 -1v-4l-1 -1v-3l-1 -1v-5l-1 -1v-5l-1 -1v-4l-1 -1v-3l-1 -1v-3l-1 -1v-3l-1 -1v-5l-1 -1v-4l-1 -1v-2l-1 -1v-2l-1 -1v-3l-1 -1v-3l-1 -1v-3l-1 -1v-3l-1 -1v-3l-1 -1v-3l-1 -1v-2l-1 -1v-2l-1 -1v-2l-1 -1v-2l-1 -1v-4l-1 -1v-1l-1 -1v-1l-1 -1v-1l-1 -1v-2l-1 -1v-1l-1 -1v-2l-1 -1v-1l-1 -1v-2l-1 -1v-2l-1 -1v-1l-1 -1v-2l-1 -1v-2l-1 -1v-1l-1 -1v-1l-1 -1v-1l-1 -1v-1l-1 -1v-1l-1 -1v-1l-1 -1v-2l-1 -1v-1l-1 -1v-1l-1 -1v-1l-1 -1v-1l-2 -2v-1l-1 -1v-1l-1 -1v-1l-1 -1v-1l-1 -1v-1l-1 -1v-1l-2 -2v-1l-2 -2v-1l-1 -1v-1l-2 -2v-1l-2 -2v-1l-2 -2v-1l-2 -2v-1l-3 -3v-1l-3 -3v-1l-2 -2v-1l-3 -3v-1l-3 -3v-1l-3 -3v-1l-2 -2v-1l-3 -3v-1l-7 -7v-1l-7 -7v-1l-19 -19h-1l-20 -20h-1l-6 -6h-1l-3 -3h-1l-3 -3h-1l-3 -3h-1l-8 -8h-1l-3 -3h-1l-3 -3h-1l-3 -3h-1l-3 -3h-1l-4 -4h-1l-4 -4h-1l-3 -3h-1l-2 -2h-1l-3 -3h-1l-3 -3h-1l-3 -3h-1l-3 -3h-1l-3 -3h-1l-3 -3h-1l-4 -4h-1l-2 -2h-1l-2 -2h-1l-1 -1h-1l-2 -2h-1l-2 -2h-1l-2 -2h-1l-3 -3h-1l-4 -4h-1l-4 -4h-1l-4 -4h-1l-2 -2h-1l-2 -2h-1l-3 -3h-1l-3 -3h-1l-3 -3h-1l-3 -3h-1l-3 -3h-1l-3 -3h-1l-3 -3h-1l-3 -3h-1l-3 -3h-1l-5 -5h-1l-4 -4h-1l-2 -2h-1l-3 -3h-1l-2 -2h-1l-3 -3h-1l-4 -4h-1l-5 -5h-1l-4 -4h-1l-4 -4h-1l-5 -5h-1l-5 -5h-1l-4 -4h-1l-4 -4h-1l-5 -5h-1l-6 -6h-1l-8 -8h-1l-9 -9h-1l-11 -11v-1l-8 -8h-1l-3 -3h-1l-27 -27v-1l-11 -11v-1l-7 -7v-1l-5 -5v-1l-5 -5v-1l-11 -11v-1l-5 -5v-1l-5 -5v-1l-5 -5v-1l-4 -4v-1l-3 -3v-1l-3 -3v-1l-2 -2v-1l-3 -3v-1l-2 -2v-1l-3 -3v-1l-3 -3v-1l-2 -2v-1l-1 -1v-1l-1 -1M958 801v-15l-1 -1v-18l-1 -1v-14l-1 -1v-15l-1 -1v-10l-1 -1v-11l-1 -1v-12l-1 -1v-12l-1 -1v-6l-1 -1v-6l-1 -1v-6l-1 -1v-7l-1 -1v-7l-1 -1v-7l-1 -1v-8l-1 -1v-5l-1 -1v-3l-1 -1v-6l-1 -1v-3l-1 -1v-3l-1 -1v-3l-1 -1v-4l-1 -1v-5l-1 -1v-3l-1 -1v-3l-1 -1v-2l-1 -1v-2l-1 -1v-3l-1 -1v-3l-1 -1v-3l-1 -1v-3l-1 -1v-3l-1 -1v-2l-1 -1v-2l-1 -1v-3l-1 -1v-2l-1 -1v-2l-1 -1v-1l-1 -1v-1l-1 -1v-2l-1 -1v-2l-1 -1v-2l-1 -1v-1l-1 -1v-1l-1 -1v-2l-1 -1v-1l-1 -1v-1l-1 -1v-2l-1 -1v-1l-1 -1v-1l-1 -1v-1l-1 -1v-1l-1 -1v-1l-1 -1v-1l-1 -1v-1l-1 -1v-1l-1 -1v-1l-1 -1v-1l-1 -1v-1l-1 -1v-1l-3 -3v-1l-2 -2v-1l-1 -1v-1l-2 -2v-1l-1 -1v-1l-1 -1v-1l-2 -2v-1l-1 -1v-1l-2 -2v-1l-2 -2v-1l-2 -2v-1l-2 -2v-1l-2 -2v-1l-3 -3v-1l-4 -4v-1l-7 -7v-1l-5 -5v-1l-6 -6v-1l-9 -9v-1l-5 -5h-1l-9 -9h-1l-19 -19h-1l-3 -3h-1l-3 -3h-1l-5 -5h-1l-5 -5h-1l-6 -6h-1l-5 -5h-1l-3 -3h-1l-3 -3h-1l-3 -3h-1l-3 -3h-1l-3 -3h-1l-3 -3h-1l-3 -3h-1l-3 -3h-1l-3 -3h-1l-4 -4h-1l-3 -3h-1l-3 -3h-1l-3 -3h-1l-3 -3h-1l-3 -3h-1l-3 -3h-1l-2 -2h-1l-3 -3h-1l-2 -2h-1l-3 -3h-1l-6 -6h-1l-2 -2h-1l-2 -2h-1l-1 -1h-1l-2 -2h-1l-2 -2h-1l-3 -3h-1l-4 -4h-1l-4 -4h-1l-4 -4h-1l-4 -4h-1l-3 -3h-1l-4 -4h-1l-3 -3h-1l-6 -6h-1l-3 -3h-1l-2 -2h-1l-3 -3h-1l-2 -2h-1l-3 -3h-1l-4 -4h-1l-5 -5h-1l-6 -6h-1l-11 -11h-1l-10 -10h-1l-3 -3h-1l-4 -4h-1l-5 -5h-1l-4 -4h-1l-27 -27v-1l-11 -11v-1l-6 -6v-1l-6 -6h-1l-8 -8h-1l-7 -7v-1l-7 -7v-1l-7 -7v-1l-5 -5v-1l-3 -3v-1l-4 -4v-1l-3 -3v-1l-4 -4v-1l-3 -3v-1l-1 -1M979 801v-20l-1 -1v-38l-1 -1v-34l-1 -1v-19l-1 -1v-20l-1 -1v-15l-1 -1v-7l-1 -1v-16l-1 -1v-9l-1 -1v-8l-1 -1v-6l-1 -1v-5l-1 -1v-7l-1 -1v-6l-1 -1v-5l-1 -1v-5l-1 -1v-5l-1 -1v-5l-1 -1v-3l-1 -1v-3l-1 -1v-3l-1 -1v-3l-1 -1v-3l-1 -1v-3l-1 -1v-3l-1 -1v-2l-1 -1v-3l-1 -1v-2l-1 -1v-2l-1 -1v-2l-1 -1v-1l-1 -1v-2l-1 -1v-2l-1 -1v-2l-1 -1v-3l-1 -1v-2l-1 -1v-2l-1 -1v-2l-1 -1v-1l-1 -1v-1l-1 -1v-1l-1 -1v-1l-1 -1v-1l-1 -1v-1l-1 -1v-1l-1 -1v-2l-1 -1v-1l-1 -1v-1l-1 -1v-1l-1 -1v-1l-1 -1v-1l-1 -1v-1l-1 -1v-1l-1 -1v-1l-1 -1v-1l-1 -1v-1l-1 -1v-1l-2 -2v-1l-2 -2v-1l-1 -1v-1l-1 -1v-1l-2 -2v-1l-1 -1v-1l-2 -2v-1l-2 -2v-1l-2 -2v-1l-1 -1v-1l-2 -2v-1l-2 -2v-1l-2 -2v-1l-1 -1h-1l-3 -3v-1l-4 -4v-1l-3 -3v-1l-4 -4v-1l-4 -4v-1l-36 -36h-1l-9 -9h-1l-6 -6h-1l-6 -6h-1l-3 -3h-1l-2 -2h-1l-4 -4h-1l-4 -4h-1l-4 -4h-1l-4 -4h-1l-4 -4h-1l-4 -4h-1l-4 -4h-1l-4 -4h-1l-3 -3h-1l-2 -2h-1l-2 -2h-1l-3 -3h-1l-2 -2h-1l-3 -3h-1l-3 -3h-1l-3 -3h-1l-3 -3h-1l-3 -3h-1l-4 -4h-1l-3 -3h-1l-4 -4h-1l-3 -3h-1l-5 -5h-1l-3 -3h-1l-2 -2h-1l-3 -3h-1l-2 -2h-1l-3 -3h-1l-3 -3h-1l-3 -3h-1l-3 -3h-1l-3 -3h-1l-3 -3h-1l-6 -6h-1l-9 -9h-1l-5 -5h-1l-2 -2h-1l-3 -3h-1l-3 -3h-1l-3 -3h-1l-3 -3h-1l-4 -4h-1l-6 -6h-1l-6 -6h-1l-12 -12h-1l-17 -17v-1l-10 -10h-1l-6 -6h-1l-6 -6h-1l-6 -6h-1l-8 -8v-1l-10 -10v-1l-7 -7v-1l-4 -4v-1l-4 -4v-1l-5 -5v-1M997 801v-65l1 -1v-69l-1 -1v-40l-1 -1v-18l-1 -1v-20l-1 -1v-9l-1 -1v-11l-1 -1v-8l-1 -1v-5l-1 -1v-6l-1 -1v-5l-1 -1v-6l-1 -1v-6l-1 -1v-5l-1 -1v-4l-1 -1v-3l-1 -1v-5l-1 -1v-4l-1 -1v-4l-1 -1v-3l-1 -1v-3l-1 -1v-2l-1 -1v-2l-1 -1v-3l-1 -1v-2l-1 -1v-2l-1 -1v-2l-1 -1v-3l-1 -1v-2l-1 -1v-2l-1 -1v-2l-1 -1v-1l-1 -1v-2l-1 -1v-2l-1 -1v-1l-1 -1v-2l-1 -1v-1l-1 -1v-2l-2 -2v-1l-1 -1v-1l-1 -1v-1l-1 -1v-1l-1 -1v-1l-1 -1v-1l-1 -1v-1l-1 -1v-1l-1 -1v-1l-1 -1v-1l-2 -2v-1l-1 -1v-1l-1 -1v-1l-1 -1v-1l-2 -2v-1l-1 -1v-1l-1 -1v-1l-2 -2v-1l-2 -2v-1l-2 -2v-1l-2 -2v-1l-3 -3v-1l-3 -3v-1l-3 -3v-1l-3 -3v-1l-3 -3v-1l-3 -3v-1l-5 -5v-1l-7 -7v-1l-20 -20h-1l-9 -9h-1l-9 -9h-1l-16 -16h-1l-2 -2h-1l-3 -3h-1l-3 -3h-1l-3 -3h-1l-3 -3h-1l-3 -3h-1l-3 -3h-1l-4 -4h-1l-4 -4h-1l-5 -5h-1l-4 -4h-1l-4 -4h-1l-3 -3h-1l-3 -3h-1l-3 -3h-1l-3 -3h-1l-2 -2h-1l-3 -3h-1l-2 -2h-1l-3 -3h-1l-2 -2h-1l-3 -3h-1l-3 -3h-1l-4 -4h-1l-5 -5h-1l-4 -4h-1l-9 -9h-1l-3 -3h-1l-2 -2h-1l-3 -3h-1l-2 -2h-1l-3 -3h-1l-2 -2h-1l-3 -3h-1l-2 -2h-1l-3 -3h-1l-4 -4h-1l-6 -6h-1l-6 -6h-1l-12 -12h-1l-16 -16h-1l-3 -3h-1l-3 -3h-1l-3 -3h-1l-7 -7h-1l-9 -9h-1l-28 -28v-1l-5 -5v-1l-3 -3M1013 801v-7l1 -1v-31l1 -1v-31l1 -1v-22l1 -1v-33l1 -1v-47l1 -1v-39l-1 -1v-33l-1 -1v-12l-1 -1v-13l-1 -1v-9l-1 -1v-6l-1 -1v-7l-1 -1v-7l-1 -1v-7l-1 -1v-7l-1 -1v-6l-1 -1v-4l-1 -1v-3l-1 -1v-4l-1 -1v-4l-1 -1v-3l-1 -1v-3l-1 -1v-3l-1 -1v-3l-1 -1v-2l-1 -1v-1l-1 -1v-2l-1 -1v-2l-1 -1v-1l-1 -1v-2l-1 -1v-2l-1 -1v-1l-1 -1v-2l-1 -1v-2l-1 -1v-1l-1 -1v-2l-1 -1v-2l-1 -1v-2l-1 -1v-2l-1 -1v-1l-1 -1v-2l-1 -1v-1h-1l-1 -1v-1l-1 -1v-1l-1 -1v-1l-1 -1v-1l-1 -1v-1l-1 -1v-1l-1 -1v-1l-1 -1v-1l-1 -1v-1l-1 -1v-1l-1 -1v-1l-1 -1v-1l-1 -1v-1l-2 -2v-1l-2 -2v-1l-2 -2v-1l-2 -2v-1l-3 -3v-1l-2 -2v-1l-3 -3v-1l-2 -2v-1l-3 -3v-1l-4 -4v-1l-8 -8v-1l-11 -11v-1l-7 -7v-1l-10 -10h-1l-10 -10h-1l-6 -6h-1l-6 -6h-1l-7 -7h-1l-6 -6h-1l-3 -3h-1l-3 -3h-1l-3 -3h-1l-4 -4h-1l-4 -4h-1l-4 -4h-1l-4 -4h-1l-3 -3h-1l-3 -3h-1l-3 -3h-1l-3 -3h-1l-8 -8h-1l-6 -6h-1l-1 -1h-1l-1 -1h-1l-1 -1h-1l-2 -2h-1l-3 -3h-1l-3 -3h-1l-3 -3h-1l-3 -3h-1l-4 -4h-1l-3 -3h-1l-3 -3h-1l-3 -3h-1l-3 -3h-1l-5 -5h-1l-6 -6h-1l-6 -6h-1l-9 -9h-1l-8 -8h-1l-2 -2h-1l-3 -3h-1l-3 -3h-1l-3 -3h-1l-3 -3h-1l-3 -3h-1l-5 -5h-1l-6 -6h-1l-6 -6h-1l-28 -28v-1l-1 -1M1028 801v-7l1 -1v-21l1 -1v-19l1 -1v-15l1 -1v-16l1 -1v-18l1 -1v-12l1 -1v-20l1 -1v-15l1 -1v-16l1 -1v-17l1 -1v-29l1 -1v-74l-1 -1v-26l-1 -1v-7l-1 -1v-8l-1 -1v-9l-1 -1v-7l-1 -1v-6l-1 -1v-5l-1 -1v-5l-1 -1v-4l-1 -1v-5l-1 -1v-4l-1 -1v-4l-1 -1v-3l-1 -1v-3l-1 -1v-3l-1 -1v-3l-1 -1v-2l-1 -1v-1l-1 -1v-2l-1 -1v-2l-1 -1v-1l-1 -1v-2l-1 -1v-2l-1 -1v-1l-1 -1v-2l-1 -1v-2l-1 -1v-1l-1 -1v-2l-1 -1v-2l-1 -1v-1l-1 -1v-1l-1 -1v-1l-1 -1v-2l-1 -1v-1l-1 -1v-1l-1 -1v-1l-1 -1v-1l-1 -1v-1l-1 -1v-1l-1 -1v-1l-2 -2v-1l-1 -1v-1l-2 -2v-1l-2 -2v-1l-1 -1v-1l-2 -2v-1l-2 -2v-1l-2 -2v-1l-1 -1v-1l-2 -2v-1l-2 -2v-1l-2 -2v-1l-1 -1v-1l-2 -2v-1l-2 -2v-1l-6 -6v-1l-11 -11v-1l-11 -11v-1l-14 -14h-1l-7 -7h-1l-6 -6h-1l-5 -5h-1l-6 -6h-1l-8 -8h-1l-9 -9h-1l-9 -9h-1l-2 -2h-1l-2 -2h-1l-2 -2h-1l-2 -2h-1l-2 -2h-1l-2 -2h-1l-3 -3h-1l-3 -3h-1l-3 -3h-1l-3 -3h-1l-4 -4h-1l-3 -3h-1l-3 -3h-1l-3 -3h-1l-3 -3h-1l-5 -5h-1l-6 -6h-1l-6 -6h-1l-5 -5v-1l-3 -3h-1l-2 -2h-1l-2 -2h-1l-3 -3h-1l-2 -2h-1l-2 -2h-1l-3 -3h-1l-2 -2h-1l-3 -3h-1l-2 -2h-1l-3 -3h-1l-3 -3h-1l-4 -4h-1l-5 -5h-1l-4 -4h-1l-11 -11h-1l-13 -13M1042 801v-11l1 -1v-12l1 -1v-14l1 -1v-14l1 -1v-16l1 -1v-10l1 -1v-11l1 -1v-12l1 -1v-13l1 -1v-13l1 -1v-7l1 -1v-15l1 -1v-8l1 -1v-17l1 -1v-8l1 -1v-9l1 -1v-20l1 -1v-11l1 -1v-11l1 -1v-26l1 -1v-62l-1 -1v-19l-1 -1v-14l-1 -1v-9l-1 -1v-8l-1 -1v-5l-1 -1v-5l-1 -1v-5l-1 -1v-5l-1 -1v-3l-1 -1v-4l-1 -1v-3l-1 -1v-4l-1 -1v-3l-1 -1v-3l-1 -1v-2l-1 -1v-2l-1 -1v-2l-1 -1v-2l-1 -1v-2l-1 -1v-2l-1 -1v-2l-1 -1v-2l-1 -1v-2l-1 -1v-2l-1 -1v-1l-1 -1v-1l-1 -1v-1l-1 -1v-1l-1 -1v-2l-1 -1v-1l-1 -1v-1l-1 -1v-1l-1 -1v-2l-1 -1v-1l-1 -1v-1l-1 -1v-1l-1 -1v-1l-1 -1v-1l-1 -1v-1l-1 -1v-1l-2 -2v-1l-2 -2v-1l-2 -2v-1l-2 -2v-1l-2 -2v-1l-2 -2v-1l-2 -2v-1l-2 -2v-1l-2 -2v-1l-3 -3v-1l-3 -3v-1l-4 -4v-1l-7 -7v-1l-15 -15v-1l-32 -32h-1l-3 -3h-1l-2 -2h-1l-3 -3h-1l-2 -2h-1l-3 -3h-1l-4 -4h-1l-5 -5h-1l-6 -6h-1l-5 -5h-1l-4 -4h-1l-5 -5h-1l-4 -4h-1l-6 -6h-1l-8 -8h-1l-5 -5h-1l-2 -2h-1l-2 -2h-1l-3 -3h-1l-2 -2h-1l-2 -2h-1l-3 -3h-1l-2 -2h-1l-3 -3h-1l-2 -2h-1l-3 -3h-1l-2 -2h-1l-3 -3h-1l-3 -3h-1l-4 -4h-1l-5 -5h-1l-4 -4h-1l-6 -6h-1l-9 -9h-1l-4 -4M1054 801v-11l1 -1v-12l1 -1v-9l1 -1v-9l1 -1v-9l1 -1v-10l1 -1v-10l1 -1v-11l1 -1v-5l1 -1v-12l1 -1v-6l1 -1v-13l1 -1v-6l1 -1v-7l1 -1v-15l1 -1v-8l1 -1v-7l1 -1v-9l1 -1v-8l1 -1v-9l1 -1v-10l1 -1v-9l1 -1v-11l1 -1v-11l1 -1v-9l1 -1v-5l1 -1v-10l1 -1v-13l1 -1v-14l1 -1v-33l1 -1v-39l-1 -1v-22l-1 -1v-15l-1 -1v-6l-1 -1v-5l-1 -1v-6l-1 -1v-5l-1 -1v-4l-1 -1v-4l-1 -1v-4l-1 -1v-4l-1 -1v-4l-1 -1v-3l-1 -1v-3l-1 -1v-2l-1 -1v-3l-1 -1v-3l-1 -1v-2l-1 -1v-3l-1 -1v-2l-1 -1v-2l-1 -1v-1l-1 -1v-2l-1 -1v-2l-1 -1v-1l-1 -1v-1l-1 -1v-1l-1 -1v-1l-1 -1v-1l-1 -1v-1l-1 -1v-1l-1 -1v-1l-1 -1v-1l-1 -1v-1l-1 -1v-1l-1 -1v-1l-1 -1v-1l-1 -1v-1l-1 -1v-1l-1 -1v-1l-1 -1v-2l-1 -1v-1l-1 -1v-1l-2 -2v-1l-3 -3v-1l-3 -3v-1l-3 -3v-1l-3 -3v-1l-3 -3v-1l-3 -3v-1l-3 -3v-1l-4 -4v-1l-3 -3v-1l-4 -4v-1l-3 -3v-1l-7 -7h-1l-5 -5h-1l-5 -5h-1l-12 -12h-1l-15 -15h-1l-9 -9h-1l-11 -11h-1l-7 -7h-1l-1 -1h-1l-2 -2h-1l-2 -2h-1l-2 -2h-1l-3 -3h-1l-2 -2h-1l-2 -2h-1l-3 -3h-1l-2 -2h-1l-3 -3h-1l-2 -2h-1l-3 -3h-1l-2 -2h-1l-3 -3h-1l-3 -3h-1l-4 -4h-1l-5 -5h-1l-4 -4h-1l-6 -6h-1l-9 -9h-1l-1 -1M1086 263v-1l-1 -1v-1l-1 -1v-2l-1 -1v-1l-1 -1v-1l-1 -1v-1l-1 -1v-1l-1 -1v-1l-1 -1v-1l-1 -1v-1l-1 -1v-1l-1 -1v-1l-1 -1v-1l-2 -2v-1l-1 -1v-1l-1 -1v-1l-1 -1v-1l-1 -1v-1l-1 -1v-1l-1 -1v-1l-2 -2v-1l-1 -1v-1l-2 -2v-1l-1 -1v-1l-1 -1v-1l-2 -2v-1l-1 -1v-1l-2 -2v-1l-1 -1v-1l-14 -14v-1l-10 -10v-1l-15 -15v-1l-14 -14v-1l-6 -6v-1l-4 -4h-1l-2 -2h-1l-2 -2h-1l-2 -2h-1l-3 -3h-1l-3 -3h-1l-3 -3h-1l-3 -3h-1l-3 -3h-1l-3 -3h-1l-2 -2h-1l-3 -3h-1l-2 -2h-1l-3 -3h-1l-3 -3h-1l-4 -4h-1l-5 -5h-1l-4 -4h-1l-6 -6h-1l-8 -8M1065 801v-2l1 -1v-8l1 -1v-12l1 -1v-9l1 -1v-14l1 -1v-4l1 -1v-10l1 -1v-10l1 -1v-5l1 -1v-11l1 -1v-6l1 -1v-12l1 -1v-6l1 -1v-6l1 -1v-6l1 -1v-7l1 -1v-7l1 -1v-7l1 -1v-8l1 -1v-5l1 -1v-3l1 -1v-2M1086 186l-1 -1v-1l-3 -3v-1l-3 -3v-1l-3 -3v-1l-3 -3v-1l-3 -3v-1l-3 -3v-1l-4 -4v-1l-3 -3v-1l-3 -3v-1l-3 -3v-1l-3 -3v-1l-3 -3v-1l-2 -2h-1l-4 -4h-1l-5 -5h-1l-6 -6h-1l-5 -5h-1l-4 -4h-1l-5 -5h-1l-4 -4h-1l-5 -5h-1l-6 -6h-1l-6 -6h-1l-12 -12h-1l-3 -3M1076 801v-11l1 -1v-8l1 -1v-8l1 -1v-9l1 -1v-9l1 -1v-4l1 -1v-10l1 -1v-5l1 -1v-10l1 -1v-3l1 -1M1086 124l-10 -10h-1l-20 -20h-1l-26 -26M1086 73l-3 -3v-1l-1 -1"/>
<path stroke="#00ff00" d="M182 801l2 -2v-1l11 -11v-1l9 -9v-1l9 -9v-1l3 -3h1l4 -4v-1l2 -2v-1l18 -18v-1l5 -5v-1l5 -5h1l5 -5v-1l12 -12v-1l13 -13v-1l5 -5v-1l27 -27v-1l16 -16v-1l16 -16v-1l8 -8v-1l11 -11h1l5 -5v-1l5 -5v-1l4 -4h1l4 -4v-1l22 -22v-1l9 -9v-1l30 -30v-1l17 -17h1l8 -8v-1l10 -10v-1l27 -27v-1l10 -10h1l9 -9v-1l1 -1v-1l9 -9h1l21 -21v-1l11 -11v-1l10 -10h1l13 -13v-1l24 -24h1l11 -11v-1l10 -10h1l13 -13v-1l8 -8v-1l5 -5h1l88 -88v-1l6 -6h1l7 -7h1l13 -13v-1l20 -20h1l15 -15v-1l10 -10h1l35 -35h1l20 -20h1l6 -6M330 801l2 -2v-1l3 -3v-1l8 -8v-1l8 -8v-1l4 -4v-1l4 -4v-1l7 -7v-1l2 -2v-1l13 -13v-1l4 -4v-1l5 -5v-1l10 -10v-1l6 -6v-1l5 -5v-1l11 -11v-1l5 -5v-1l3 -3v-1l11 -11v-1l11 -11v-1l3 -3v-1l12 -12v-1l3 -3v-1l13 -13v-1l7 -7v-1l4 -4v-1l12 -12v-1l4 -4v-1l16 -16v-1l10 -10v-1l5 -5v-1l9 -9v-1l3 -3v-1l8 -8v-1l6 -6h1l4 -4v-1l5 -5v-1l14 -14v-1l9 -9v-1l9 -9v-1l7 -7v-1l17 -17v-1l5 -5v-1l17 -17v-1l10 -10v-1l21 -21v-1l9 -9v-1l4 -4v-1l8 -8h1l9 -9v-1l7 -7v-1l20 -20v-1l22 -22v-1l13 -13v-1l7 -7v-1l37 -37v-1l20 -20v-1l10 -10v-1l15 -15v-1l10 -10h1l26 -26v-1l10 -10v-1l26 -26v-1l10 -10h1l20 -20v-1l35 -35M427 801l1 -1v-1l1 -1v-1l6 -6v-1l4 -4v-1l6 -6v-1l1 -1v-1l4 -4v-1l4 -4v-1l7 -7v-1l2 -2v-1l1 -1h1l1 -1v-1l1 -1v-1l8 -8v-1l4 -4v-1l5 -5v-1l5 -5v-1l4 -4v-1l5 -5v-1l6 -6v-1l5 -5v-1l4 -4v-1l3 -3v-1l4 -4v-1l8 -8v-1l4 -4v-1l11 -11v-1l3 -3v-1l5 -5v-1l6 -6v-1l3 -3v-1l5 -5v-1l8 -8v-1l6 -6v-1l4 -4v-1l8 -8v-1l4 -4v-1l5 -5v-1l6 -6v-1l10 -10v-1l7 -7v-1l5 -5v-1l6 -6v-1l5 -5v-1l8 -8v-1l5 -5v-1l4 -4v-1l6 -6v-1l13 -13v-1l6 -6v-1l7 -7v-1l8 -8v-1l7 -7v-1l12 -12v-1l3 -3v-1l3 -3v-1l7 -7v-1l9 -9v-1l11 -11v-1l17 -17v-1l7 -7v-1l5 -5v-1l3 -3v-1l9 -9v-1l12 -12v-1l20 -20v-1l9 -9v-1l11 -11v-1l7 -7v-1l7 -7v-1l7 -7v-1l22 -22v-1l11 -11v-1l7 -7v-1l10 -10v-1l18 -18v-1l14 -14v-1l6 -6v-1l7 -7h1l9 -9v-1l10 -10v-1l15 -15v-1l14 -14v-1l6 -6v-1l7 -7h1l9 -9v-1l10 -10v-1l36 -36v-1l3 -3M500 801l2 -2v-1l3 -3v-1l3 -3v-1l4 -4v-1l3 -3v-1l4 -4v-1l4 -4v-1l5 -5v-1l2 -2v-1l3 -3v-1l2 -2v-1l3 -3v-1l8 -8v-1l4 -4v-1l2 -2v-1l3 -3v-1l5 -5v-1l4 -4v-1l6 -6v-1l3 -3v-1l3 -3v-1l3 -3v-1l6 -6v-1l6 -6v-1l1 -1v-1l4 -4v-1l6 -6v-1l4 -4v-1l3 -3v-1l1 -1h1l1 -1v-1l3 -3v-1l3 -3v-1l3 -3v-1l4 -4v-1l3 -3v-1l2 -2h1l1 -1v-1l3 -3v-1l6 -6v-1l7 -7v-1l4 -4v-1l3 -3v-1l3 -3v-1l4 -4v-1l5 -5v-1l8 -8v-1l5 -5v-1l5 -5v-1l5 -5v-1l5 -5v-1l4 -4v-1l3 -3v-1l3 -3v-1l10 -10v-1l2 -2v-1l4 -4v-1l6 -6v-1l11 -11v-1l7 -7v-1l4 -4v-1l4 -4v-1l7 -7v-1l7 -7v-1l6 -6v-1l5 -5v-1l3 -3v-1l3 -3v-1l7 -7v-1l7 -7v-1l3 -3v-1l9 -9v-1l9 -9v-1l11 -11v-1l9 -9v-1l1 -1v-1l2 -2v-1l8 -8v-1l10 -10v-1l5 -5v-1l16 -16v-1l5 -5v-1l5 -5v-1l12 -12v-1l7 -7v-1l7 -7v-1l6 -6v-1l10 -10v-1l13 -13v-1l11 -11v-1l5 -5v-1l6 -6v-1l9 -9v-1l10 -10v-1l11 -11v-1l6 -6v-1l3 -3v-1l9 -9h1l10 -10v-1l7 -7v-1l7 -7v-1l8 -8v-1l11 -11v-1l7 -7v-1l19 -19M561 801l1 -1v-1l1 -1v-1l2 -2v-1l4 -4v-1l3 -3v-1l3 -3v-1l4 -4v-1l3 -3v-1l1 -1v-1l3 -3v-1l6 -6v-1l1 -1v-1l1 -1v-1l3 -3v-1l4 -4v-1l4 -4v-1l3 -3v-1l5 -5v-1l2 -2v-1l3 -3v-1l4 -4v-1l5 -5v-1l3 -3v-1l3 -3v-1l4 -4v-1l4 -4v-1l3 -3v-1l2 -2v-1l3 -3v-1l1 -1h1l2 -2v-1l2 -2v-1l2 -2v-1l3 -3v-1l4 -4v-1l4 -4v-1l3 -3v-1l5 -5v-1l5 -5v-1l2 -2v-1l2 -2v-1l4 -4v-1l6 -6v-1l3 -3v-1l4 -4v-1l4 -4v-1l5 -5v-1l3 -3v-1l3 -3v-1l5 -5v-1l4 -4v-1l4 -4v-1l3 -3v-1l4 -4v-1l6 -6v-1l5 -5v-1l5 -5v-1l3 -3v-1l3 -3v-1l5 -5v-1l5 -5v-1l8 -8v-1l2 -2v-1l3 -3v-1l4 -4v-1l6 -6v-1l3 -3v-1l4 -4v-1l6 -6v-1l7 -7v-1l6 -6v-1l3 -3v-1l5 -5v-1l8 -8v-1l4 -4v-1l2 -2v-1l4 -4v-1l4 -4v-1l4 -4v-1l10 -10v-1l7 -7v-1l7 -7v-1l5 -5v-1l3 -3v-1l4 -4v-1l3 -3v-1l5 -5h1l5 -5v-1l3 -3v-1l3 -3v-1l3 -3v-1l3 -3v-1l9 -9v-1l7 -7v-1l7 -7v-1l11 -11v-1l9 -9v-1l6 -6v-1l3 -3v-1l3 -3v-1l3 -3v-1l13 -13v-1l7 -7v-1l7 -7v-1l7 -7v-1l11 -11v-1l10 -10v-1l7 -7v-1l7 -7v-1l5 -5v-1l3 -3v-1l4 -4v-1l6 -6h1l10 -10v-1l11 -11v-1l5 -5M612 801l1 -1v-1l1 -1v-1l2 -2v-1l3 -3v-1l4 -4v-1l3 -3v-1l3 -3v-1l2 -2v-1l2 -2v-1l3 -3v-1l1 -1v-1l6 -6v-1l2 -2v-1l2 -2v-1l1 -1v-1l2 -2h1l1 -1v-1l1 -1v-1l2 -2v-1l3 -3v-1l2 -2v-1l3 -3v-1l5 -5v-1l3 -3v-1l2 -2v-1l3 -3v-1l4 -4v-1l3 -3v-1l2 -2v-1l2 -2v-1l3 -3v-1l5 -5v-1l3 -3v-1l2 -2v-1l3 -3v-1l4 -4v-1l5 -5v-1l2 -2v-1l2 -2v-1l3 -3v-1l3 -3v-1l3 -3v-1l4 -4v-1l3 -3v-1l3 -3v-1l3 -3v-1l4 -4v-1l3 -3v-1l4 -4v-1l4 -4v-1l4 -4v-1l3 -3v-1l3 -3v-1l3 -3v-1l3 -3v-1l8 -8v-1l3 -3v-1l3 -3v-1l3 -3v-1l2 -2v-1l3 -3v-1l3 -3v-1l2 -2h1l1 -1v-1l2 -2v-1l3 -3v-1l2 -2v-1l4 -4v-1l5 -5v-1l5 -5v-1l3 -3v-1l4 -4v-1l7 -7v-1l6 -6v-1l3 -3v-1l4 -4v-1l5 -5v-1l3 -3v-1l3 -3v-1l3 -3v-1l4 -4v-1l5 -5v-1l7 -7v-1l3 -3v-1l1 -1v-1l4 -4v-1l5 -5v-1l6 -6v-1l8 -8v-1l5 -5v-1l5 -5v-1l4 -4v-1l2 -2v-1l4 -4v-1l5 -5v-1l5 -5v-1l10 -10v-1l3 -3v-1l3 -3v-1l4 -4v-1l3 -3v-1l3 -3h1l4 -4v-1l4 -4v-1l4 -4v-1l4 -4v-1l4 -4v-1l7 -7v-1l6 -6v-1l7 -7v-1l5 -5v-1l3 -3v-1l4 -4v-1l14 -14v-1l5 -5v-1l5 -5v-1l5 -5v-1l6 -6v-1l7 -7v-1l7 -7v-1l7 -7v-1l7 -7v-1l7 -7v-1l4 -4M657 801l1 -1v-1l1 -1v-1l2 -2v-1l3 -3v-1l3 -3v-1l1 -1v-1l2 -2v-1l2 -2h1l1 -1v-1l1 -1v-1l2 -2v-1l1 -1v-1l3 -3v-1l3 -3v-1l3 -3v-1l2 -2v-1l2 -2v-1l2 -2v-1l2 -2v-1l4 -4v-1l3 -3v-1l2 -2v-1l2 -2v-1l2 -2v-1l3 -3v-1l2 -2h1l1 -1v-1l2 -2v-1l2 -2v-1l2 -2v-1l2 -2v-1l3 -3v-1l2 -2v-1l2 -2v-1l2 -2v-1l3 -3v-1l2 -2v-1l3 -3v-1l2 -2v-1l3 -3v-1l4 -4v-1l4 -4v-1l3 -3v-1l2 -2v-1l3 -3v-1l3 -3v-1l3 -3v-1l3 -3v-1l2 -2v-1l2 -2v-1l1 -1h1l1 -1v-1l3 -3v-1l4 -4v-1l3 -3v-1l3 -3v-1l2 -2v-1l3 -3v-1l3 -3v-1l3 -3v-1l3 -3v-1l3 -3v-1l3 -3v-1l4 -4v-1l4 -4v-1l2 -2v-1l3 -3v-1l3 -3v-1l3 -3v-1l5 -5v-1l5 -5v-1l2 -2v-1l2 -2v-1l2 -2v-1l3 -3v-1l3 -3v-1l3 -3v-1l5 -5v-1l3 -3v-1l3 -3v-1l5 -5v-1l6 -6v-1l4 -4v-1l3 -3v-1l3 -3v-1l3 -3v-1l6 -6v-1l6 -6v-1l3 -3v-1l2 -2v-1l3 -3v-1l3 -3v-1l3 -3v-1l3 -3v-1l1 -1h1l1 -1v-1l3 -3v-1l3 -3v-1l3 -3v-1l3 -3v-1l10 -10v-1l4 -4v-1l4 -4v-1l4 -4v-1l5 -5v-1l4 -4v-1l3 -3v-1l4 -4v-1l4 -4v-1l5 -5v-1l4 -4v-1l4 -4v-1l5 -5v-1l6 -6v-1l6 -6v-1l4 -4v-1l5 -5v-1l4 -4v-1l8 -8v-1l4 -4v-1l4 -4v-1l4 -4v-1l4 -4v-1l5 -5v-1l7 -7v-1l7 -7v-1l6 -6v-1l5 -5v-1l5 -5v-1l5 -5v-1l4 -4M698 801v-1l1 -1v-1l1 -1v-1l1 -1v-1l3 -3v-1l3 -3v-1l1 -1v-1l5 -5v-1l2 -2v-1l2 -2v-1l1 -1v-1l2 -2v-1l1 -1v-1l5 -5v-1l1 -1v-1l1 -1v-1l3 -3v-1l2 -2v-1l2 -2v-1l3 -3v-1l3 -3v-1l2 -2v-1l2 -2v-1l2 -2v-1l3 -3v-1l3 -3v-1l2 -2v-1l3 -3v-1l4 -4v-1l1 -1v-1l1 -1v-1l3 -3v-1l4 -4v-1l1 -1v-1l1 -1v-1l1 -1h1l1 -1v-1l1 -1v-1l1 -1v-1l2 -2v-1l3 -3v-1l2 -2v-1l3 -3v-1l4 -4v-1l3 -3v-1l3 -3v-1l4 -4v-1l1 -1v-1l2 -2v-1l2 -2v-1l2 -2v-1l2 -2v-1l7 -7v-1l2 -2v-1l2 -2v-1l2 -2v-1l2 -2v-1l2 -2v-1l3 -3v-1l4 -4v-1l6 -6v-1l2 -2v-1l1 -1v-1l2 -2v-1l3 -3v-1l4 -4v-1l3 -3v-1l3 -3v-1l3 -3v-1l2 -2v-1l3 -3v-1l3 -3v-1l4 -4v-1l3 -3v-1l3 -3v-1l4 -4v-1l3 -3v-1l3 -3v-1l4 -4v-1l4 -4v-1l2 -2v-1l1 -1v-1l4 -4v-1l6 -6v-1l4 -4v-1l2 -2v-1l2 -2v-1l4 -4v-1l5 -5v-1l3 -3v-1l3 -3v-1l3 -3v-1l5 -5v-1l3 -3v-1l2 -2v-1l2 -2v-1l3 -3v-1l5 -5v-1l6 -6v-1l2 -2v-1l3 -3v-1l3 -3v-1l4 -4v-1l5 -5v-1l4 -4v-1l4 -4v-1l4 -4v-1l5 -5v-1l4 -4v-1l3 -3v-1l4 -4v-1l5 -5v-1l4 -4v-1l5 -5v-1l3 -3v-1l1 -1v-1l4 -4v-1l5 -5v-1l6 -6v-1l5 -5v-1l4 -4v-1l5 -5v-1l7 -7v-1l5 -5v-1l3 -3v-1l3 -3v-1l3 -3v-1l3 -3v-1l4 -4h1l2 -2M734 801v-1l1 -1v-1l3 -3v-1l3 -3v-1l2 -2v-1l1 -1v-1l1 -1v-1l5 -5v-1l1 -1v-1l2 -2v-1l1 -1v-1l2 -2v-1l1 -1v-1l2 -2v-1l3 -3v-1l2 -2v-1l2 -2v-1l1 -1v-1l3 -3v-1l4 -4v-1l2 -2v-1l1 -1v-1l1 -1v-1l2 -2v-1l2 -2v-1l3 -3v-1l3 -3v-1l2 -2v-1l2 -2v-1l2 -2v-1l3 -3v-1l2 -2v-1l2 -2v-1l2 -2v-1l2 -2v-1l3 -3v-1l2 -2v-1l3 -3v-1l2 -2v-1l3 -3v-1l2 -2v-1l3 -3v-1l2 -2v-1l3 -3v-1l2 -2v-1l1 -1v-1l2 -2v-1l5 -5v-1l1 -1v-1l2 -2v-1l2 -2v-1l2 -2v-1l2 -2v-1l3 -3v-1l3 -3v-1l3 -3v-1l4 -4v-1l1 -1v-1l2 -2v-1l1 -1v-1l3 -3v-1l3 -3v-1l4 -4v-1l3 -3v-1l2 -2v-1l3 -3v-1l4 -4v-1l3 -3v-1l3 -3v-1l3 -3v-1l3 -3v-1l3 -3v-1l3 -3v-1l2 -2v-1l2 -2v-1l3 -3v-1l2 -2v-1l2 -2v-1l3 -3v-1l4 -4v-1l3 -3v-1l3 -3v-1l2 -2v-1l3 -3v-1l3 -3v-1l3 -3v-1l4 -4v-1l3 -3v-1l3 -3v-1l3 -3v-1l3 -3v-1l4 -4v-1l4 -4v-1l3 -3v-1l3 -3v-1l2 -2v-1l3 -3v-1l3 -3v-1l3 -3v-1l3 -3v-1l2 -2v-1l3 -3v-1l3 -3v-1l3 -3v-1l3 -3v-1l8 -8v-1l3 -3v-1l3 -3v-1l3 -3v-1l6 -6v-1l5 -5v-1l2 -2v-1l2 -2v-1l3 -3v-1l2 -2v-1l5 -5v-1l7 -7v-1l3 -3v-1l3 -3v-1l3 -3v-1l6 -6v-1l6 -6v-1l3 -3v-1l3 -3v-1l3 -3v-1l3 -3v-1l7 -7M767 801l1 -1v-1l1 -1v-1l2 -2v-1l3 -3v-1l3 -3v-1l1 -1v-1l2 -2v-1l3 -3v-1l1 -1v-1l2 -2v-1l1 -1v-1l2 -2v-1l1 -1v-1l2 -2v-1l2 -2v-1l1 -1v-1l1 -1v-1l3 -3v-1l3 -3v-1l1 -1v-1l3 -3v-1l2 -2v-1l1 -1v-1l1 -1v-1l2 -2v-1l2 -2v-1l4 -4v-1l2 -2v-1l2 -2v-1l2 -2v-1l2 -2v-1l2 -2v-1l1 -1v-1l1 -1v-1l3 -3v-1l5 -5v-1l1 -1v-1l1 -1v-1l1 -1v-1l3 -3v-1l2 -2v-1l3 -3v-1l2 -2v-1l3 -3v-1l2 -2v-1l1 -1v-1l4 -4v-1l1 -1v-1l2 -2v-1l2 -2v-1l3 -3v-1l3 -3v-1l2 -2v-1l2 -2v-1l4 -4v-1l2 -2v-1l2 -2v-1l2 -2v-1l2 -2v-1l2 -2v-1l2 -2v-1l3 -3v-1l3 -3v-1l3 -3v-1l3 -3v-1l2 -2v-1l1 -1v-1l2 -2v-1l3 -3v-1l4 -4v-1l2 -2v-1l1 -1v-1l4 -4v-1l4 -4v-1l2 -2v-1l2 -2v-1l2 -2v-1l3 -3v-1l3 -3v-1l2 -2v-1l1 -1v-1l3 -3v-1l3 -3v-1l3 -3v-1l3 -3v-1l3 -3v-1l3 -3v-1l2 -2v-1l3 -3v-1l3 -3v-1l4 -4v-1l3 -3v-1l2 -2v-1l2 -2v-1l2 -2v-1l6 -6v-1l3 -3v-1l2 -2v-1l2 -2v-1l3 -3v-1l3 -3v-1l4 -4v-1l2 -2v-1l3 -3v-1l2 -2v-1l4 -4v-1l6 -6v-1l3 -3v-1l1 -1v-1l1 -1v-1l3 -3v-1l4 -4v-1l5 -5v-1l4 -4v-1l2 -2v-1l2 -2v-1l4 -4v-1l3 -3v-1l4 -4v-1l4 -4v-1l6 -6v-1l3 -3v-1l3 -3v-1l3 -3v-1l3 -3v-1l3 -3v-1l4 -4M798 801l1 -1v-1l1 -1v-1l2 -2v-1l2 -2v-1l1 -1v-1l2 -2v-1l1 -1v-1l2 -2v-1l3 -3v-1l1 -1v-1l2 -2v-1l1 -1v-1l2 -2v-1l1 -1v-1l2 -2v-1l2 -2v-1l1 -1v-1l1 -1v-1l3 -3v-1l3 -3v-1l1 -1v-1l3 -3v-1l2 -2v-1l1 -1v-1l1 -1v-1l2 -2v-1l2 -2v-1l3 -3v-1l3 -3v-1l2 -2v-1l2 -2v-1l2 -2v-1l1 -1v-1l1 -1v-1l1 -1v-1l3 -3v-1l2 -2v-1l2 -2v-1l1 -1v-1l1 -1v-1l2 -2v-1l3 -3v-1l2 -2v-1l3 -3v-1l2 -2v-1l3 -3v-1l2 -2v-1l3 -3v-1l2 -2v-1l1 -1v-1l2 -2v-1l2 -2v-1l3 -3v-1l3 -3v-1l1 -1v-1l1 -1v-1l1 -1v-1l2 -2v-1l3 -3v-1l3 -3v-1l2 -2v-1l2 -2v-1l2 -2v-1l3 -3v-1l2 -2v-1l2 -2v-1l2 -2v-1l2 -2v-1l2 -2v-1l3 -3v-1l3 -3v-1l2 -2v-1l3 -3v-1l2 -2v-1l2 -2v-1l3 -3v-1l3 -3v-1l2 -2v-1l2 -2v-1l2 -2v-1l2 -2v-1l1 -1h1l1 -1v-1l1 -1v-1l2 -2v-1l2 -2v-1l1 -1v-1l3 -3v-1l3 -3v-1l3 -3v-1l3 -3v-1l2 -2v-1l2 -2v-1l1 -1v-1l2 -2v-1l3 -3v-1l3 -3v-1l4 -4v-1l3 -3v-1l3 -3v-1l3 -3v-1l3 -3v-1l3 -3v-1l3 -3v-1l3 -3v-1l3 -3v-1l2 -2v-1l1 -1v-1l3 -3v-1l3 -3v-1l3 -3v-1l3 -3v-1l2 -2v-1l3 -3v-1l3 -3v-1l3 -3v-1l3 -3v-1l4 -4v-1l4 -4v-1l4 -4v-1l3 -3v-1l2 -2v-1l3 -3v-1l3 -3v-1l3 -3v-1l4 -4v-1l3 -3v-1l2 -2M827 801v-1l1 -1v-1l1 -1v-1l1 -1v-1l3 -3v-1l3 -3v-1l1 -1v-1l1 -1v-1l1 -1v-1l2 -2v-1l1 -1v-1l2 -2v-1l1 -1v-1l2 -2v-1l1 -1v-1l2 -2v-1l2 -2v-1l1 -1v-1l1 -1v-1l2 -2v-1l4 -4v-1l1 -1v-1l2 -2v-1l1 -1v-1l2 -2v-1l2 -2v-1l1 -1v-1l1 -1v-1l1 -1v-1l3 -3v-1l3 -3v-1l2 -2v-1l2 -2v-1l2 -2v-1l2 -2v-1l1 -1v-1l1 -1v-1l2 -2v-1l2 -2v-1l2 -2v-1l1 -1v-1l1 -1v-1l5 -5v-1l1 -1v-1l1 -1v-1l3 -3v-1l2 -2v-1l1 -1v-1l1 -1v-1l2 -2v-1l3 -3v-1l2 -2v-1l1 -1v-1l2 -2v-1l1 -1h1l1 -1v-1l1 -1v-1l2 -2v-1l2 -2v-1l1 -1v-1l1 -1v-1l1 -1v-1l2 -2v-1l3 -3v-1l3 -3v-1l2 -2v-1l2 -2v-1l2 -2v-1l2 -2v-1l3 -3v-1l2 -2v-1l2 -2v-1l2 -2v-1l2 -2v-1l3 -3v-1l2 -2v-1l1 -1v-1l2 -2v-1l4 -4v-1l3 -3v-1l2 -2v-1l1 -1v-1l2 -2v-1l2 -2v-1l2 -2v-1l3 -3v-1l4 -4v-1l1 -1v-1l2 -2v-1l2 -2v-1l1 -1v-1l3 -3v-1l4 -4v-1l2 -2v-1l1 -1v-1l1 -1v-1l3 -3v-1l2 -2v-1l3 -3v-1l3 -3v-1l5 -5v-1l3 -3v-1l2 -2v-1l2 -2v-1l2 -2v-1l3 -3v-1l2 -2v-1l2 -2v-1l3 -3v-1l3 -3v-1l2 -2v-1l2 -2v-1l2 -2v-1l3 -3v-1l3 -3v-1l3 -3v-1l3 -3v-1l5 -5v-1l2 -2v-1l2 -2v-1l1 -1v-1l2 -2v-1l2 -2v-1l6 -6v-1l5 -5M854 801v-1l1 -1v-1l1 -1v-1l1 -1v-1l2 -2v-1l1 -1v-1l2 -2v-1l1 -1v-1l2 -2v-1l3 -3v-1l1 -1v-1l1 -1v-1l1 -1v-1l1 -1v-1l1 -1v-1l1 -1v-1l5 -5v-1l1 -1v-1l1 -1v-1l2 -2v-1l1 -1v-1l2 -2v-1l1 -1v-1l2 -2v-1l1 -1v-1l2 -2v-1l2 -2v-1l1 -1v-1l1 -1v-1l1 -1v-1l1 -1h1l1 -1v-1l1 -1v-1l2 -2v-1l2 -2v-1l1 -1v-1l1 -1v-1l1 -1v-1l2 -2v-1l1 -1v-1l1 -1v-1l3 -3v-1l3 -3v-1l1 -1v-1l2 -2v-1l2 -2v-1l1 -1v-1l1 -1v-1l2 -2v-1l3 -3v-1l2 -2v-1l1 -1v-1l1 -1v-1l2 -2v-1l3 -3v-1l3 -3v-1l1 -1v-1l1 -1v-1l2 -2v-1l1 -1v-1l2 -2v-1l2 -2v-1l2 -2v-1l2 -2v-1l2 -2v-1l3 -3v-1l3 -3v-1l2 -2v-1l2 -2v-1l2 -2v-1l1 -1v-1l2 -2v-1l1 -1v-1l2 -2v-1l2 -2v-1l2 -2v-1l2 -2v-1l2 -2v-1l1 -1v-1l2 -2v-1l2 -2v-1l2 -2v-1l3 -3v-1l2 -2v-1l3 -3v-1l3 -3v-1l3 -3v-1l2 -2v-1l1 -1v-1l2 -2v-1l2 -2v-1l2 -2v-1l3 -3v-1l2 -2v-1l3 -3v-1l4 -4v-1l1 -1v-1l1 -1v-1l2 -2v-1l2 -2v-1l1 -1v-1l2 -2v-1l2 -2v-1l3 -3v-1l3 -3v-1l4 -4v-1l3 -3v-1l2 -2v-1l2 -2v-1l3 -3v-1l2 -2v-1l2 -2v-1l3 -3v-1l3 -3v-1l2 -2v-1l2 -2v-1l2 -2v-1l2 -2v-1l2 -2v-1l3 -3v-1l2 -2v-1l2 -2v-1l1 -1h1l1 -1M879 801v-1l1 -1v-1l1 -1v-1l1 -1v-1l2 -2v-1l1 -1v-1l2 -2v-1l1 -1v-1l2 -2v-1l2 -2v-1l1 -1v-1l1 -1v-1l1 -1v-1l1 -1v-1l4 -4v-2l1 -1v-1l2 -2v-1l1 -1v-1l1 -1v-1l2 -2v-1l1 -1v-1l2 -2v-1l1 -1v-1l3 -3v-1l2 -2v-1l1 -1v-1l1 -1v-1l1 -1v-1l1 -1v-1l1 -1v-1l3 -3v-1l3 -3v-1l2 -2v-1l1 -1v-1l1 -1v-1l1 -1v-1l2 -2v-1l1 -1v-1l1 -1v-1l3 -3v-1l2 -2v-1l1 -1v-1l1 -1v-1l1 -1v-1l2 -2v-1l3 -3v-1l2 -2v-1l1 -1v-1l1 -1v-1l2 -2v-1l3 -3v-1l2 -2v-1l3 -3v-1l1 -1v-1l1 -1v-1l1 -1v-1l1 -1v-1l2 -2v-1l3 -3v-1l3 -3v-1l1 -1v-1l1 -1v-1l1 -1v-1l2 -2v-1l3 -3v-1l3 -3v-1l1 -1v-1l1 -1v-1l1 -1v-1l2 -2v-1l2 -2v-1l3 -3v-1l2 -2v-1l2 -2v-1l2 -2v-1l2 -2v-1l2 -2v-1l1 -1v-1l2 -2v-1l2 -2v-1l2 -2v-1l3 -3v-1l2 -2v-1l2 -2v-1l3 -3v-1l1 -1v-1l1 -1v-1l2 -2v-1l2 -2v-1l2 -2v-1l2 -2v-1l2 -2v-1l3 -3v-1l2 -2v-1l2 -2v-1l1 -1v-1l2 -2v-1l1 -1v-1l2 -2v-1l2 -2v-1l3 -3v-1l2 -2v-1l3 -3v-1l2 -2v-1l3 -3v-1l3 -3v-1l2 -2v-1l2 -2v-1l2 -2v-1l2 -2v-1l3 -3v-1l2 -2v-1l4 -4v-1l3 -3M903 801v-1l1 -1v-1l1 -1v-2l1 -1v-1l2 -2v-1l2 -2v-1l1 -1v-1l1 -1v-1l1 -1v-1l3 -3v-1l1 -1v-1l1 -1v-1l1 -1v-1l2 -2v-1l1 -1v-1l1 -1v-1l1 -1v-1l2 -2v-1l1 -1v-1l1 -1v-1l2 -2v-1l1 -1v-1l2 -2v-1l1 -1v-1l3 -3v-1l2 -2v-1l1 -1v-1l1 -1v-1l1 -1v-1l1 -1v-1l1 -1v-1l3 -3v-1l2 -2v-1l1 -1v-1l1 -1v-1l2 -2v-1l2 -2v-1l2 -2v-1l1 -1v-1l1 -1v-1l3 -3v-1l1 -1v-1l2 -2v-1l1 -1v-1l1 -1v-1l2 -2v-1l1 -1v-1l1 -1v-1l2 -2v-1l1 -1v-1l1 -1v-1l2 -2v-1l3 -3v-1l1 -1v-1l3 -3v-1l2 -2v-1l1 -1v-1l1 -1v-1l1 -1v-1l2 -2v-1l1 -1v-1l2 -2v-1l2 -2v-1l2 -2v-1l2 -2v-1l2 -2v-1l2 -2v-1l1 -1v-1l2 -2v-1l2 -2v-1l2 -2v-1l2 -2v-1l1 -1v-1l2 -2v-1l1 -1v-1l2 -2v-1l3 -3v-1l2 -2v-1l1 -1v-1l2 -2v-1l1 -1v-1l2 -2v-1l2 -2v-1l2 -2v-1l3 -3v-1l2 -2v-1l1 -1v-1l2 -2v-1l1 -1v-1l3 -3v-1l2 -2v-1l2 -2v-1l2 -2v-1l2 -2v-1l1 -1v-1l2 -2v-1l2 -2v-1l1 -1v-1l3 -3v-1l3 -3v-1l1 -1v-1l2 -2v-1l2 -2v-1l2 -2v-1l1 -1v-1l2 -2v-1l2 -2v-1l4 -4v-1l4 -4M925 801v-1l1 -1v-1l1 -1v-1l1 -1v-1l2 -2v-1l1 -1v-1l2 -2v-1l1 -1v-1l1 -1v-1l1 -1v-1l2 -2v-1l1 -1v-1l2 -2v-1l1 -1v-1l1 -1v-1l1 -1v-1l1 -1v-1l1 -1v-1l2 -2v-1l1 -1v-1l1 -1v-1l2 -2v-1l1 -1v-1l2 -2v-1l1 -1v-1l2 -2v-1l1 -1v-1l3 -3v-2l1 -1v-1l1 -1v-1l2 -2v-1l2 -2v-1l1 -1v-1l2 -2v-1l2 -2v-1l1 -1v-1l1 -1v-1l1 -1v-1l2 -2v-1l1 -1v-1l1 -1v-1l3 -3v-1l1 -1v-1l2 -2v-1l1 -1v-1l1 -1v-1l2 -2v-1l1 -1v-1l1 -1v-1l2 -2v-1l1 -1v-1l1 -1v-1l2 -2v-1l3 -3v-1l1 -1v-1l2 -2v-1l1 -1v-1l2 -2v-1l1 -1v-1l2 -2v-1l2 -2v-1l1 -1v-1l2 -2v-1l2 -2v-1l1 -1v-1l1 -1v-1l1 -1v-1l5 -5v-1l1 -1v-1l2 -2v-1l1 -1v-1l1 -1v-1l1 -1v-1l2 -2v-1l1 -1v-1l2 -2v-1l1 -1v-1l2 -2v-1l2 -2v-1l2 -2v-1l2 -2v-1l2 -2v-1l1 -1v-1l2 -2v-1l2 -2v-1l2 -2v-1l3 -3v-1l2 -2v-1l2 -2v-1l1 -1v-1l2 -2v-1l2 -2v-1l2 -2v-1l2 -2v-1l2 -2v-1l2 -2v-1l1 -1v-1l2 -2v-1l2 -2v-1l1 -1v-1l2 -2v-1l3 -3v-1l1 -1M946 801l1 -1v-1l1 -1v-1l1 -1v-1l1 -1v-1l1 -1v-1l1 -1v-1l2 -2v-1l1 -1v-1l1 -1v-1l1 -1v-1l2 -2v-1l1 -1v-1l2 -2v-1l1 -1v-1l1 -1v-1l1 -1v-1l1 -1v-1l1 -1v-1l2 -2v-1l1 -1v-1l1 -1v-1l2 -2v-1l1 -1v-1l2 -2v-1l1 -1v-1l2 -2v-1l1 -1v-1l1 -1v-1l1 -1v-1l1 -1v-1l1 -1v-1l1 -1v-1l1 -1v-1l2 -2v-1l1 -1v-1l2 -2v-1l2 -2v-1l1 -1v-1l1 -1v-1l1 -1v-1l2 -2v-1l1 -1v-1l1 -1v-1l3 -3v-1l1 -1v-1l2 -2v-1l1 -1v-1l1 -1v-1l2 -2v-1l1 -1v-1l1 -1v-1l2 -2v-1l1 -1v-1l1 -1v-1l2 -2v-1l3 -3v-1l2 -2v-1l1 -1v-1l1 -1v-1l2 -2v-1l1 -1v-1l2 -2v-1l2 -2v-1l1 -1v-1l2 -2v-1l2 -2v-1l1 -1v-1l1 -1v-1l1 -1v-1l2 -2v-1l1 -1v-1l2 -2v-1l2 -2v-1l2 -2v-1l2 -2v-1l1 -1v-1l1 -1v-1l1 -1v-1l1 -1v-1l1 -1v-1l3 -3v-1l3 -3v-1l2 -2v-1l2 -2v-1l1 -1v-1l1 -1v-1l1 -1v-1l2 -2v-1l2 -2v-1l3 -3v-1l2 -2v-1l2 -2v-1l1 -1v-1l2 -2v-1l2 -2v-1l1 -1M967 801v-1l1 -1v-1l1 -1v-2l1 -1v-1l1 -1v-1l1 -1v-1l2 -2v-1l1 -1v-1l1 -1v-1l1 -1v-1l2 -2v-1l1 -1v-1l1 -1v-1l1 -1v-1l1 -1v-1l1 -1v-1l1 -1v-1l2 -2v-1l2 -2v-1l1 -1v-2l1 -1v-1l1 -1v-1l1 -1v-1l2 -2v-1l1 -1v-1l2 -2v-1l1 -1v-1l2 -2v-1l1 -1v-1l1 -1v-1l1 -1v-1l2 -2v-1l2 -2v-1l1 -1v-1l1 -1v-1l1 -1v-1l1 -1v-1l2 -2v-1l2 -2v-1l1 -1v-1l1 -1v-1l1 -1v-1l1 -1v-1l2 -2v-1l2 -2v-1l1 -1v-1l1 -1v-1l1 -1v-1l2 -2v-1l1 -1v-1l1 -1v-1l2 -2v-1l1 -1v-1l1 -1v-1l2 -2v-1l1 -1v-1l1 -1v-1l2 -2v-1l2 -2v-1l2 -2v-1l1 -1v-1l1 -1v-1l1 -1v-1l2 -2v-1l1 -1v-1l2 -2v-1l2 -2v-1l1 -1v-1l1 -1v-1l1 -1v-1l2 -2v-1l3 -3v-1l2 -2v-1l1 -1v-1l1 -1v-1l2 -2v-1l2 -2v-1l1 -1v-1l2 -2v-1l1 -1v-1l2 -2v-1l2 -2v-1l2 -2v-1l2 -2v-1l2 -2v-1l1 -1M986 801v-1l1 -1v-1l1 -1v-2l1 -1v-1l2 -2v-1l2 -2v-1l1 -1v-1l1 -1v-2l1 -1v-1l2 -2v-1l1 -1v-1l1 -1v-1l1 -1v-1l1 -1v-1l1 -1v-1l1 -1v-1l2 -2v-1l2 -2v-1l1 -1v-2l1 -1v-1l1 -1v-1l1 -1v-1l2 -2v-1l1 -1v-1l2 -2v-1l1 -1v-1l1 -1v-1l1 -1v-1l1 -1v-1l3 -3v-2l1 -1v-1l1 -1v-1l1 -1v-1l2 -2v-1l2 -2v-1l1 -1v-1l1 -1v-1l1 -1v-1l2 -2v-1l1 -1v-1l1 -1v-1l1 -1v-1l1 -1v-1l1 -1v-1l2 -2v-1l1 -1v-1l1 -1v-1l2 -2v-1l1 -1v-1l1 -1v-1l2 -2v-1l1 -1v-1l1 -1v-1l2 -2v-1l1 -1v-1l1 -1v-1l2 -2v-1l3 -3v-1l1 -1v-1l1 -1v-1l1 -1v-1l1 -1v-1l2 -2v-1l1 -1v-1l2 -2v-1l2 -2v-1l1 -1v-1l1 -1v-1l1 -1v-1l2 -2v-1l1 -1v-1l2 -2v-1l2 -2v-1l2 -2v-1l1 -1M1004 801v-1l1 -1v-1l1 -1v-1l1 -1v-1l2 -2v-1l1 -1v-1l1 -1v-1l1 -1v-1l1 -1v-2l1 -1v-1l2 -2v-1l1 -1v-1l1 -1v-1l1 -1v-1l1 -1v-1l1 -1v-1l1 -1v-1l1 -1h1v-1l1 -1v-1l1 -1v-1l1 -1v-2l1 -1v-1l1 -1v-1l1 -1v-1l2 -2v-1l1 -1v-1l2 -2v-1l1 -1v-1l1 -1v-1l1 -1v-1l1 -1v-1l1 -1v-1l1 -1v-1l1 -1v-1l1 -1v-1l2 -2v-1l1 -1v-1l1 -1v-1l1 -1v-1l2 -2v-1l2 -2v-1l1 -1v-1l1 -1v-1l1 -1v-1l1 -1v-1l1 -1v-1l2 -2v-1l1 -1v-1l1 -1v-1l1 -1v-1l1 -1v-1l2 -2v-1l1 -1v-1l1 -1v-1l1 -1v-1l1 -1v-1l1 -1v-1l2 -2v-1l1 -1v-1l1 -1v-1l2 -2v-1l3 -3v-1l1 -1v-1l1 -1v-1l1 -1v-1l1 -1v-1l2 -2v-1l1 -1M1022 801v-1l1 -1v-1l1 -1v-2l1 -1v-1l1 -1v-1l1 -1v-1l2 -2v-1l1 -1v-1l1 -1v-1l1 -1v-1l1 -1v-1l1 -1v-1l1 -1v-1l1 -1v-1l1 -1v-1l1 -1v-1l1 -1v-1l1 -1v-1l1 -1v-1l2 -2v-1l1 -1v-2l1 -1v-1l1 -1v-1l1 -1v-1l2 -2v-1l1 -1v-1l2 -2v-1l1 -1v-1l1 -1v-1l1 -1v-1l1 -1v-1l1 -1v-1l1 -1v-1l1 -1v-1l2 -2v-1l1 -1v-1l1 -1v-1l1 -1v-1l1 -1v-1l1 -1v-1l1 -1v-1l1 -1v-1l2 -2v-1l1 -1v-1l1 -1v-1l1 -1v-1l1 -1v-1l1 -1v-1l2 -2v-1l1 -1v-1l1 -1v-1l2 -2v-1l1 -1v-1l1 -1v-1l2 -2v-1l1 -1M1039 801v-1l1 -1v-1l1 -1v-2l1 -1v-1l1 -1v-1l1 -1v-1l1 -1v-1l1 -1v-1l1 -1v-1l1 -1v-1l2 -2v-1l1 -1v-1l1 -1v-2l1 -1v-1l1 -1v-1l1 -1v-1l1 -1v-1l1 -1v-1l1 -1v-1l1 -1v-1l1 -1v-1l1 -1v-1l2 -2v-1l1 -1v-1l1 -1v-1l1 -1v-1l1 -1v-1l1 -1v-1l1 -1v-1l1 -1v-1l1 -1v-1l1 -1v-1l1 -1v-1l1 -1v-1l1 -1v-1l2 -2v-1l1 -1v-1l1 -1v-1l1 -1v-1l1 -1v-1l1 -1v-1l1 -1v-1l1 -1v-1l2 -2M1055 801v-1l1 -1v-1l1 -1v-2l1 -1v-1l1 -1v-1l1 -1v-1l1 -1v-1l1 -1v-1l1 -1v-1l1 -1v-1l2 -2v-1l1 -1v-1l1 -1v-2l1 -1v-1l1 -1v-1l1 -1v-1l1 -1v-1l1 -1v-1l1 -1v-1l1 -1v-1l1 -1v-1l1 -1v-1l1 -1v-1l1 -1v-1l1 -1v-1l1 -1v-1l1 -1v-1l2 -2v-1l1 -1v-1l1 -1M1070 801v-1l1 -1v-1l1 -1v-2l1 -1v-1l2 -2v-1l2 -2v-1l1 -1v-1l1 -1v-2l1 -1v-1l1 -1v-1l1 -1v-1l1 -1v-1l1 -1v-1l1 -1v-1l1 -1"/>
</g>
<g stroke="#000" stroke-width="1" stroke-dasharray="1 4" shape-rendering="crispEdges">
<line x1="156" y1="92.5" x2="1087" y2="92.5"/>
<line x1="156" y1="133.5" x2="1087" y2="133.5"/>
<line x1="156" y1="169.5" x2="1087" y2="169.5"/>
<line x1="156" y1="199.5" x2="1087" y2="199.5"/>
<line x1="156" y1="226.5" x2="1087" y2="226.5"/>
<line x1="156" y1="251.5" x2="1087" y2="251.5"/>
<line x1="156" y1="410.5" x2="1087" y2="410.5"/>
<line x1="156" y1="503.5" x2="1087" y2="503.5"/>
<line x1="156" y1="569.5" x2="1087" y2="569.5"/>
<line x1="156" y1="620.5" x2="1087" y2="620.5"/>
<line x1="156" y1="662.5" x2="1087" y2="662.5"/>
<line x1="156" y1="697.5" x2="1087" y2="697.5"/>
<line x1="156" y1="727.5" x2="1087" y2="727.5"/>
<line x1="156" y1="754.5" x2="1087" y2="754.5"/>
<line x1="156" y1="779.5" x2="1087" y2="779.5"/>
</g>
<g clip-path="url(#c)" shape-rendering="crispEdges" stroke-linejoin="round"><polyline points="964.8,64 935.4,78.9 893.7,99.1 856.1,118.7 823.8,137.7 793.4,156.3 762.8,174.3 732.8,191.9 704.2,209 677.4,225.7 652.4,242 630,257.9 610.6,273.5 594.2,288.6 580,303.5 567.3,318 555.5,332.1 544.5,346 534.9,359.6 527.3,372.9 522.1,385.9 519.7,398.7 520.5,411.2 524.9,423.5 532.7,435.5 543.4,447.3 556.4,458.8 571.1,470.2 587.3,481.4 604.6,492.3 620.2,503 633.9,513.6 647.8,524 662.5,534.2 677.4,544.2 691.9,554.1 705.4,563.7 717.3,573.3 727.3,582.6 735.8,591.9 742.9,600.9 749,609.9 754.3,618.6 759,627.3 763.3,635.8 767.5,644.2 771.6,652.5 775.8,660.6 780.4,668.6 785.1,676.5 790,684.3 794.6,691.9 799,699.5 802.9,706.9 806,714.3 807.9,721.5 807.9,728.7 805.5,735.7 801.6,742.6 797.6,749.5 794.7,756.2 794.6,762.9 794.3,769.4 793.8,775.9 803.8,782.3" fill="none" stroke="#000" stroke-width="4.6" /><polyline points="655.1,64 637,78.9 613.1,99.1 590.3,118.7 568.1,137.7 546.3,156.3 524.6,174.3 504.4,191.9 488.4,209 474.7,225.7 458.4,242 442,257.9 430.6,273.5 424.1,288.6 420.6,303.5 419.1,318 419.3,332.1 420.7,346 423,359.6 426.2,372.9 430.5,385.9 436.4,398.7 446.4,411.2 461,423.5 475.3,435.5 489,447.3 502.3,458.8 515.7,470.2 531.1,481.4 538.7,492.3 539.1,503 531.1,513.6 519.8,524 515.3,534.2 503.5,544.2 497.3,554.1 490.4,563.7 487.2,573.3 487.5,582.6 488.9,591.9 509.5,600.9 530.3,609.9 542.3,618.6 554.3,627.3 577.5,635.8 603,644.2 621.3,652.5 634.5,660.6 640.4,668.6 644.5,676.5 658.5,684.3 662.5,691.9 666.3,699.5 660,706.9 653.5,714.3 660.4,721.5 665.2,728.7 669.8,735.7 678,742.6 698,749.5 718.5,756.2 750.5,762.9 760,769.4 767.8,775.9 775,782.3" fill="none" stroke="#000" stroke-width="4.0" stroke-dasharray="12.4 6" stroke-dashoffset="4.7"/></g>
<g stroke="#000" stroke-width="1" shape-rendering="crispEdges" fill="none">
<rect x="156.5" y="68.5" width="930" height="733"/>
<line x1="156" y1="92.5" x2="167" y2="92.5"/>
<line x1="1076" y1="92.5" x2="1087" y2="92.5"/>
<line x1="156" y1="133.5" x2="167" y2="133.5"/>
<line x1="1076" y1="133.5" x2="1087" y2="133.5"/>
<line x1="156" y1="169.5" x2="167" y2="169.5"/>
<line x1="1076" y1="169.5" x2="1087" y2="169.5"/>
<line x1="156" y1="199.5" x2="167" y2="199.5"/>
<line x1="1076" y1="199.5" x2="1087" y2="199.5"/>
<line x1="156" y1="226.5" x2="167" y2="226.5"/>
<line x1="1076" y1="226.5" x2="1087" y2="226.5"/>
<line x1="156" y1="251.5" x2="167" y2="251.5"/>
<line x1="1076" y1="251.5" x2="1087" y2="251.5"/>
<line x1="156" y1="410.5" x2="167" y2="410.5"/>
<line x1="1076" y1="410.5" x2="1087" y2="410.5"/>
<line x1="156" y1="503.5" x2="167" y2="503.5"/>
<line x1="1076" y1="503.5" x2="1087" y2="503.5"/>
<line x1="156" y1="569.5" x2="167" y2="569.5"/>
<line x1="1076" y1="569.5" x2="1087" y2="569.5"/>
<line x1="156" y1="620.5" x2="167" y2="620.5"/>
<line x1="1076" y1="620.5" x2="1087" y2="620.5"/>
<line x1="156" y1="662.5" x2="167" y2="662.5"/>
<line x1="1076" y1="662.5" x2="1087" y2="662.5"/>
<line x1="156" y1="697.5" x2="167" y2="697.5"/>
<line x1="1076" y1="697.5" x2="1087" y2="697.5"/>
<line x1="156" y1="727.5" x2="167" y2="727.5"/>
<line x1="1076" y1="727.5" x2="1087" y2="727.5"/>
<line x1="156" y1="754.5" x2="167" y2="754.5"/>
<line x1="1076" y1="754.5" x2="1087" y2="754.5"/>
<line x1="156" y1="779.5" x2="167" y2="779.5"/>
<line x1="1076" y1="779.5" x2="1087" y2="779.5"/>
<line x1="207.5" y1="68" x2="207.5" y2="78"/>
<line x1="207.5" y1="791" x2="207.5" y2="802"/>
<line x1="311.5" y1="68" x2="311.5" y2="78"/>
<line x1="311.5" y1="791" x2="311.5" y2="802"/>
<line x1="414.5" y1="68" x2="414.5" y2="78"/>
<line x1="414.5" y1="791" x2="414.5" y2="802"/>
<line x1="517.5" y1="68" x2="517.5" y2="78"/>
<line x1="517.5" y1="791" x2="517.5" y2="802"/>
<line x1="621.5" y1="68" x2="621.5" y2="78"/>
<line x1="621.5" y1="791" x2="621.5" y2="802"/>
<line x1="724.5" y1="68" x2="724.5" y2="78"/>
<line x1="724.5" y1="791" x2="724.5" y2="802"/>
<line x1="827.5" y1="68" x2="827.5" y2="78"/>
<line x1="827.5" y1="791" x2="827.5" y2="802"/>
<line x1="931.5" y1="68" x2="931.5" y2="78"/>
<line x1="931.5" y1="791" x2="931.5" y2="802"/>
<line x1="1034.5" y1="68" x2="1034.5" y2="78"/>
<line x1="1034.5" y1="791" x2="1034.5" y2="802"/>
</g>
<g font-family="'Liberation Sans', sans-serif" fill="#000" stroke="#000" filter="url(#th)">
<text x="222.48" y="52" font-size="25.5" font-weight="normal" stroke-width="0.5" textLength="161.06" lengthAdjust="spacingAndGlyphs">Scanning-HIS</text>
<text x="390.57" y="52" font-size="25.5" font-weight="normal" stroke-width="0.5" textLength="75.37" lengthAdjust="spacingAndGlyphs">RT-DR</text>
<text x="472.44" y="52" font-size="25.5" font-weight="normal" stroke-width="0.5" textLength="64.74" lengthAdjust="spacingAndGlyphs">Mean</text>
<text x="547.96" y="52" font-size="25.5" font-weight="normal" stroke-width="0.5" textLength="103.27" lengthAdjust="spacingAndGlyphs">Retrieval</text>
<text x="654.17" y="52" font-size="25.5" font-weight="normal" stroke-width="0.5" textLength="8.61" lengthAdjust="spacingAndGlyphs">:</text>
<text x="668.04" y="52" font-size="25.5" font-weight="normal" stroke-width="0.5" textLength="141.09" lengthAdjust="spacingAndGlyphs">27-Sep-2012</text>
<text x="814.07" y="52" font-size="25.5" font-weight="normal" stroke-width="0.5" textLength="92.10" lengthAdjust="spacingAndGlyphs">05:24:14</text>
<text x="912.57" y="52" font-size="25.5" font-weight="normal" stroke-width="0.5" textLength="7.98" lengthAdjust="spacingAndGlyphs">-</text>
<text x="926.07" y="52" font-size="25.5" font-weight="normal" stroke-width="0.5" textLength="92.54" lengthAdjust="spacingAndGlyphs">05:25:32</text>
<text x="547.00" y="856" font-size="18" font-weight="bold" stroke-width="0.3" textLength="114.01" lengthAdjust="spacingAndGlyphs">Temperature</text>
<text x="665.50" y="856" font-size="18" font-weight="bold" stroke-width="0.3" textLength="28.63" lengthAdjust="spacingAndGlyphs">(C)</text>
<text transform="translate(96,499.70) rotate(-90)" x="-0.84" y="0" font-size="18" font-weight="bold" stroke-width="0.3" textLength="80.56" lengthAdjust="spacingAndGlyphs">Pressure</text>
<text transform="translate(96,410.00) rotate(-90)" x="-1.00" y="0" font-size="18" font-weight="bold" stroke-width="0.3" textLength="40.59" lengthAdjust="spacingAndGlyphs">(mb)</text>
<g font-weight="bold" font-size="18" stroke-width="0.3">
<text x="149.4" y="101" text-anchor="end">50</text>
<text x="149.4" y="142" text-anchor="end">60</text>
<text x="149.4" y="178" text-anchor="end">70</text>
<text x="149.4" y="208" text-anchor="end">80</text>
<text x="149.4" y="235" text-anchor="end">90</text>
<text x="149.4" y="260" text-anchor="end">100</text>
<text x="149.4" y="419" text-anchor="end">200</text>
<text x="149.4" y="512" text-anchor="end">300</text>
<text x="149.4" y="578" text-anchor="end">400</text>
<text x="149.4" y="629" text-anchor="end">500</text>
<text x="149.4" y="671" text-anchor="end">600</text>
<text x="149.4" y="706" text-anchor="end">700</text>
<text x="149.4" y="736" text-anchor="end">800</text>
<text x="149.4" y="763" text-anchor="end">900</text>
<text x="149.4" y="788" text-anchor="end">1000</text>
<text x="203.7" y="830" text-anchor="middle">-40</text>
<text x="307.7" y="830" text-anchor="middle">-30</text>
<text x="410.7" y="830" text-anchor="middle">-20</text>
<text x="513.7" y="830" text-anchor="middle">-10</text>
<text x="620.7" y="830" text-anchor="middle">0</text>
<text x="723.7" y="830" text-anchor="middle">10</text>
<text x="826.7" y="830" text-anchor="middle">20</text>
<text x="930.7" y="830" text-anchor="middle">30</text>
<text x="1033.7" y="830" text-anchor="middle">40</text>
<text x="1105.5" y="745">827</text>
<text x="1105.5" y="752">852</text>
<text x="1105.5" y="759">878</text>
<text x="1105.5" y="766">904</text>
<text x="1105.5" y="772">931</text>
</g></g>
</svg>
</body></html>
